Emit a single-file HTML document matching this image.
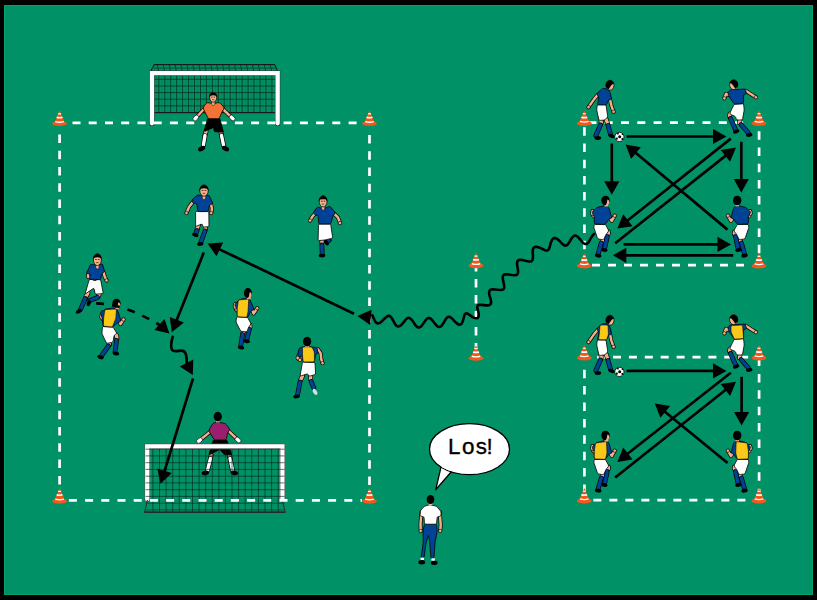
<!DOCTYPE html>
<html><head><meta charset="utf-8"><title>Drill</title>
<style>html,body{margin:0;padding:0;background:#000;width:817px;height:600px;overflow:hidden}svg{display:block}</style>
</head><body><svg width="817" height="600" viewBox="0 0 817 600"><rect x="4" y="5" width="809" height="590" fill="#009266"/><rect x="4.5" y="5.5" width="808" height="589" fill="none" stroke="#06a070" stroke-width="1"/><path d="M156.0 75.5V112.3M161.9 75.5V112.3M167.9 75.5V112.3M173.8 75.5V112.3M179.8 75.5V112.3M185.8 75.5V112.3M191.7 75.5V112.3M197.7 75.5V112.3M203.6 75.5V112.3M209.6 75.5V112.3M215.5 75.5V112.3M221.4 75.5V112.3M227.4 75.5V112.3M233.4 75.5V112.3M239.3 75.5V112.3M245.2 75.5V112.3M251.2 75.5V112.3M257.1 75.5V112.3M263.1 75.5V112.3M269.1 75.5V112.3M275.0 75.5V112.3" stroke="#08301f" stroke-width="0.8" opacity="0.2" fill="none"/><path d="M158.8 75.5V112.3M157.2 64.7L158.5 71M164.8 75.5V112.3M163.2 64.7L164.4 71M170.7 75.5V112.3M169.1 64.7L170.4 71M176.7 75.5V112.3M175.1 64.7L176.3 71M182.6 75.5V112.3M181.0 64.7L182.3 71M188.6 75.5V112.3M187.0 64.7L188.2 71M194.5 75.5V112.3M192.9 64.7L194.2 71M200.5 75.5V112.3M198.9 64.7L200.2 71M206.4 75.5V112.3M204.8 64.7L206.1 71M212.4 75.5V112.3M210.8 64.7L212.1 71M218.3 75.5V112.3M216.7 64.7L218.0 71M224.2 75.5V112.3M222.7 64.7L223.9 71M230.2 75.5V112.3M228.6 64.7L229.9 71M236.2 75.5V112.3M234.6 64.7L235.9 71M242.1 75.5V112.3M240.5 64.7L241.8 71M248.1 75.5V112.3M246.5 64.7L247.8 71M254.0 75.5V112.3M252.4 64.7L253.7 71M260.0 75.5V112.3M258.4 64.7L259.7 71M265.9 75.5V112.3M264.3 64.7L265.6 71M271.9 75.5V112.3M270.2 64.7L271.6 71M154.2 79.3H275.4M154.2 86.0H275.4M154.2 92.6H275.4M154.2 99.2H275.4M154.2 105.9H275.4M154.2 112.5H275.4M153.5 68H276" stroke="#08301f" stroke-width="0.9" opacity="0.9" fill="none"/><path d="M154.2 112.6H275.4M154.3 64.6H274.8M154.3 64.6L150.8 71M274.8 64.6L277.5 71" stroke="#1a1a1a" stroke-width="1.1" fill="none"/><path d="M151.95 123.5V73.15H277.65V123.5" stroke="#333" stroke-width="5.3" fill="none" stroke-linecap="round"/><path d="M151.95 123.3V73.15H277.65V123.3" stroke="#fff" stroke-width="4.3" fill="none" stroke-linecap="round"/><g><polyline points="211.2,455.0 210.5,458.0" fill="none" stroke="#000" stroke-width="4.8" stroke-linecap="round" stroke-linejoin="round"/><polyline points="211.2,455.0 210.5,458.0" fill="none" stroke="#f5ae88" stroke-width="3.4" stroke-linecap="round" stroke-linejoin="round"/><polyline points="210.5,458.5 207.5,470.0" fill="none" stroke="#000" stroke-width="4.8" stroke-linecap="round" stroke-linejoin="round"/><polyline points="210.5,458.5 207.5,470.0" fill="none" stroke="#fff" stroke-width="3.4" stroke-linecap="round" stroke-linejoin="round"/><polyline points="229.4,455.0 230.0,458.0" fill="none" stroke="#000" stroke-width="4.8" stroke-linecap="round" stroke-linejoin="round"/><polyline points="229.4,455.0 230.0,458.0" fill="none" stroke="#f5ae88" stroke-width="3.4" stroke-linecap="round" stroke-linejoin="round"/><polyline points="230.0,458.5 232.5,470.0" fill="none" stroke="#000" stroke-width="4.8" stroke-linecap="round" stroke-linejoin="round"/><polyline points="230.0,458.5 232.5,470.0" fill="none" stroke="#fff" stroke-width="3.4" stroke-linecap="round" stroke-linejoin="round"/><ellipse cx="205.3" cy="472.9" rx="3.8" ry="2.3" transform="rotate(-10 205.3 472.9)" fill="#000"/><ellipse cx="234.3" cy="472.9" rx="3.8" ry="2.3" transform="rotate(10 234.3 472.9)" fill="#000"/><path d="M212.74 441.25Q213.10 440.00 214.40 440.00L225.60 440.00Q226.90 440.00 227.31 441.23L231.49 453.77Q231.90 455.00 230.60 454.90L225.05 454.50Q223.75 454.40 222.97 453.36L220.78 450.44Q220.00 449.40 218.84 449.98L216.16 451.32Q215.00 451.90 213.84 452.48L209.91 454.42Q208.75 455.00 209.11 453.75Z" fill="#000" stroke="#000" stroke-width="0.8" stroke-linejoin="round"/><polyline points="210.0,431.9 199.5,440.5" fill="none" stroke="#000" stroke-width="3.9" stroke-linecap="round" stroke-linejoin="round"/><polyline points="210.0,431.9 199.5,440.5" fill="none" stroke="#f5ae88" stroke-width="2.5" stroke-linecap="round" stroke-linejoin="round"/><ellipse cx="199.5" cy="440.5" rx="3.4" ry="2.2" transform="rotate(141 199.5 440.5)" fill="#fff" stroke="#000" stroke-width="0.6"/><polyline points="228.8,431.2 238.0,440.0" fill="none" stroke="#000" stroke-width="3.9" stroke-linecap="round" stroke-linejoin="round"/><polyline points="228.8,431.2 238.0,440.0" fill="none" stroke="#f5ae88" stroke-width="2.5" stroke-linecap="round" stroke-linejoin="round"/><ellipse cx="238.0" cy="440.0" rx="3.4" ry="2.2" transform="rotate(43 238.0 440.0)" fill="#fff" stroke="#000" stroke-width="0.6"/><path d="M209.24 431.21Q208.75 430.00 209.44 428.90L212.41 424.20Q213.10 423.10 214.36 422.80L216.84 422.20Q218.10 421.90 219.36 422.21L224.34 423.44Q225.60 423.75 226.40 424.78L229.20 428.37Q230.00 429.40 229.27 430.48L228.23 432.02Q227.50 433.10 227.27 434.38L226.48 438.72Q226.25 440.00 224.95 440.00L215.70 440.00Q214.40 440.00 213.70 438.90L210.70 434.20Q210.00 433.10 209.51 431.89Z" fill="#9a1f6c" stroke="#000" stroke-width="0.8" stroke-linejoin="round"/><rect x="216.0" y="419.4" width="3.6" height="3" fill="#f5ae88"/><ellipse cx="217.8" cy="416.6" rx="4.1" ry="4.8" fill="#000"/></g><path d="M147.2 499.5V446.3H282.4V499.5" stroke="#555" stroke-width="5.4" fill="none" stroke-linecap="round"/><path d="M147.2 499.3V446.3H282.4V499.3" stroke="#fff" stroke-width="4.2" fill="none" stroke-linecap="round"/><path d="M149.8 448.9H279.8V499M149.8 448.9V499" stroke="#999" stroke-width="0.7" fill="none"/><path d="M152.9 449V512M159.5 449V512M166.1 449V512M172.7 449V512M179.3 449V512M185.9 449V512M192.5 449V512M199.1 449V512M205.7 449V512M212.3 449V512M218.9 449V512M225.4 449V512M232.0 449V512M238.6 449V512M245.2 449V512M251.8 449V512M258.4 449V512M265.0 449V512M271.6 449V512M278.2 449V512M145.5 449.2H284.5M145.5 455.9H284.5M145.5 462.7H284.5M145.5 469.4H284.5M145.5 476.2H284.5M145.5 482.9H284.5M145.5 489.7H284.5M145.5 496.4H284.5M145.5 503.2H284.5M145.5 509.9H284.5" stroke="#06261a" stroke-width="0.8" opacity="0.8" fill="none"/><path d="M147.5 500L144.6 512.2H285.2L282.2 500" stroke="#333" stroke-width="1.1" fill="none"/><path d="M144.6 512.2H285.2" stroke="#222" stroke-width="1.3"/><path d="M72.5 122.8H80.5M88.7 122.8H96.7M105.0 122.8H113.0M121.2 122.8H129.2M137.5 122.8H145.5M153.7 122.8H161.7M169.9 122.8H177.9M186.2 122.8H194.2M202.4 122.8H210.4M218.7 122.8H226.7M234.9 122.8H242.9M251.1 122.8H259.1M267.4 122.8H275.4M283.6 122.8H291.6M299.9 122.8H307.9M316.1 122.8H324.1M332.3 122.8H340.3M348.6 122.8H356.6M68.9 500.4H76.9M85.1 500.4H93.1M101.3 500.4H109.3M117.5 500.4H125.5M133.7 500.4H141.7M149.9 500.4H157.9M166.1 500.4H174.1M182.3 500.4H190.3M198.5 500.4H206.5M214.7 500.4H222.7M230.9 500.4H238.9M247.1 500.4H255.1M263.3 500.4H271.3M279.5 500.4H287.5M295.7 500.4H303.7M311.9 500.4H319.9M328.1 500.4H336.1M344.3 500.4H352.3M360.5 500.4H362.0M59.6 134.4V142.9M59.6 150.7V159.2M59.6 166.9V175.4M59.6 183.2V191.7M59.6 199.4V207.9M59.6 215.7V224.2M59.6 232.0V240.5M59.6 248.2V256.7M59.6 264.5V273.0M59.6 280.7V289.2M59.6 297.0V305.5M59.6 313.3V321.8M59.6 329.5V338.0M59.6 345.8V354.3M59.6 362.0V370.5M59.6 378.3V386.8M59.6 394.6V403.1M59.6 410.8V419.3M59.6 427.1V435.6M59.6 443.3V451.8M59.6 459.6V468.1M59.6 475.9V484.4M369.5 135.0V143.5M369.5 151.3V159.8M369.5 167.5V176.0M369.5 183.8V192.3M369.5 200.0V208.5M369.5 216.3V224.8M369.5 232.6V241.1M369.5 248.8V257.3M369.5 265.1V273.6M369.5 281.3V289.8M369.5 297.6V306.1M369.5 313.9V322.4M369.5 330.1V338.6M369.5 346.4V354.9M369.5 362.6V371.1M369.5 378.9V387.4M369.5 395.2V403.7M369.5 411.4V419.9M369.5 427.7V436.2M369.5 443.9V452.4M369.5 460.2V468.7M369.5 476.5V485.0M476.0 263.0V271.5M476.0 279.0V287.5M476.0 295.0V303.5M476.0 311.0V319.5M476.0 327.0V335.5M476.0 343.0V349.0M588.4 122.7H596.4M604.7 122.7H612.7M621.0 122.7H629.0M637.3 122.7H645.3M653.6 122.7H661.6M669.9 122.7H677.9M686.2 122.7H694.2M702.5 122.7H710.5M718.8 122.7H726.8M735.1 122.7H743.1M592.0 265.2H600.0M608.0 265.2H616.0M624.0 265.2H632.0M640.0 265.2H648.0M656.0 265.2H664.0M672.0 265.2H680.0M688.0 265.2H696.0M704.0 265.2H712.0M720.0 265.2H728.0M736.0 265.2H744.0M584.4 127.3V135.8M584.4 143.5V152.0M584.4 159.7V168.2M584.4 175.9V184.4M584.4 192.1V200.6M584.4 208.3V216.8M584.4 224.5V233.0M584.4 240.7V249.2M584.4 256.9V259.0M759.1 131.3V139.8M759.1 147.5V156.0M759.1 163.7V172.2M759.1 179.9V188.4M759.1 196.1V204.6M759.1 212.3V220.8M759.1 228.5V237.0M759.1 244.7V253.2M597.1 357.2H605.1M613.0 357.2H621.0M628.9 357.2H636.9M644.8 357.2H652.8M660.7 357.2H668.7M676.6 357.2H684.6M692.5 357.2H700.5M708.4 357.2H716.4M724.3 357.2H732.3M740.2 357.2H748.2M593.4 500.2H601.4M609.4 500.2H617.4M625.4 500.2H633.4M641.4 500.2H649.4M657.4 500.2H665.4M673.4 500.2H681.4M689.4 500.2H697.4M705.4 500.2H713.4M721.4 500.2H729.4M737.4 500.2H745.4M584.4 369.7V378.2M584.4 386.1V394.6M584.4 402.5V411.0M584.4 418.9V427.4M584.4 435.3V443.8M584.4 451.7V460.2M584.4 468.1V476.6M584.4 484.5V493.0M759.1 357.5V366.0M759.1 373.9V382.4M759.1 390.3V398.8M759.1 406.7V415.2M759.1 423.1V431.6M759.1 439.5V448.0M759.1 455.9V464.4M759.1 472.3V480.8M759.1 488.7V494.0" stroke="#fff" stroke-width="2.7" fill="none"/><ellipse cx="59.6" cy="123.5" rx="7.4" ry="2.6" fill="#f2571b"/><path d="M59.6 110.6L64.6 122.2Q59.6 123.9 54.6 122.2Z" fill="#f2571b"/><path d="M58.4 113.0Q59.6 113.5 60.8 113.0L61.3 114.2Q59.6 114.8 57.9 114.2Z" fill="#fff"/><path d="M57.0 116.5Q59.6 117.3 62.2 116.5L62.8 118.0Q59.6 119.0 56.4 118.0Z" fill="#fff"/><path d="M55.5 120.9Q59.6 122.1 63.7 120.9L64.1 122.2Q59.6 123.6 55.1 122.2Z" fill="#fff"/><ellipse cx="369.5" cy="123.5" rx="7.4" ry="2.6" fill="#f2571b"/><path d="M369.5 110.6L374.5 122.2Q369.5 123.9 364.5 122.2Z" fill="#f2571b"/><path d="M368.3 113.0Q369.5 113.5 370.7 113.0L371.2 114.2Q369.5 114.8 367.8 114.2Z" fill="#fff"/><path d="M366.9 116.5Q369.5 117.3 372.1 116.5L372.7 118.0Q369.5 119.0 366.3 118.0Z" fill="#fff"/><path d="M365.4 120.9Q369.5 122.1 373.6 120.9L374.0 122.2Q369.5 123.6 365.0 122.2Z" fill="#fff"/><ellipse cx="59.6" cy="501.1" rx="7.4" ry="2.6" fill="#f2571b"/><path d="M59.6 488.2L64.6 499.8Q59.6 501.5 54.6 499.8Z" fill="#f2571b"/><path d="M58.4 490.6Q59.6 491.1 60.8 490.6L61.3 491.8Q59.6 492.4 57.9 491.8Z" fill="#fff"/><path d="M57.0 494.1Q59.6 494.9 62.2 494.1L62.8 495.6Q59.6 496.6 56.4 495.6Z" fill="#fff"/><path d="M55.5 498.5Q59.6 499.7 63.7 498.5L64.1 499.8Q59.6 501.2 55.1 499.8Z" fill="#fff"/><ellipse cx="369.5" cy="501.1" rx="7.4" ry="2.6" fill="#f2571b"/><path d="M369.5 488.2L374.5 499.8Q369.5 501.5 364.5 499.8Z" fill="#f2571b"/><path d="M368.3 490.6Q369.5 491.1 370.7 490.6L371.2 491.8Q369.5 492.4 367.8 491.8Z" fill="#fff"/><path d="M366.9 494.1Q369.5 494.9 372.1 494.1L372.7 495.6Q369.5 496.6 366.3 495.6Z" fill="#fff"/><path d="M365.4 498.5Q369.5 499.7 373.6 498.5L374.0 499.8Q369.5 501.2 365.0 499.8Z" fill="#fff"/><ellipse cx="476" cy="265.7" rx="7.4" ry="2.6" fill="#f2571b"/><path d="M476 252.8L481.0 264.4Q476 266.1 471.0 264.4Z" fill="#f2571b"/><path d="M474.8 255.2Q476 255.7 477.2 255.2L477.7 256.4Q476 257.0 474.3 256.4Z" fill="#fff"/><path d="M473.4 258.7Q476 259.5 478.6 258.7L479.2 260.2Q476 261.2 472.8 260.2Z" fill="#fff"/><path d="M471.9 263.1Q476 264.3 480.1 263.1L480.5 264.4Q476 265.8 471.5 264.4Z" fill="#fff"/><ellipse cx="476" cy="358.2" rx="7.4" ry="2.6" fill="#f2571b"/><path d="M476 345.3L481.0 356.9Q476 358.6 471.0 356.9Z" fill="#f2571b"/><path d="M474.8 347.7Q476 348.2 477.2 347.7L477.7 348.9Q476 349.5 474.3 348.9Z" fill="#fff"/><path d="M473.4 351.2Q476 352.0 478.6 351.2L479.2 352.7Q476 353.7 472.8 352.7Z" fill="#fff"/><path d="M471.9 355.6Q476 356.8 480.1 355.6L480.5 356.9Q476 358.3 471.5 356.9Z" fill="#fff"/><ellipse cx="584.3" cy="123.4" rx="7.4" ry="2.6" fill="#f2571b"/><path d="M584.3 110.5L589.3 122.1Q584.3 123.8 579.3 122.1Z" fill="#f2571b"/><path d="M583.1 112.9Q584.3 113.4 585.5 112.9L586.0 114.1Q584.3 114.7 582.6 114.1Z" fill="#fff"/><path d="M581.7 116.4Q584.3 117.2 586.9 116.4L587.5 117.9Q584.3 118.9 581.1 117.9Z" fill="#fff"/><path d="M580.2 120.8Q584.3 122.0 588.4 120.8L588.8 122.1Q584.3 123.5 579.8 122.1Z" fill="#fff"/><ellipse cx="759" cy="123.4" rx="7.4" ry="2.6" fill="#f2571b"/><path d="M759 110.5L764.0 122.1Q759 123.8 754.0 122.1Z" fill="#f2571b"/><path d="M757.8 112.9Q759 113.4 760.2 112.9L760.7 114.1Q759 114.7 757.3 114.1Z" fill="#fff"/><path d="M756.4 116.4Q759 117.2 761.6 116.4L762.2 117.9Q759 118.9 755.8 117.9Z" fill="#fff"/><path d="M754.9 120.8Q759 122.0 763.1 120.8L763.5 122.1Q759 123.5 754.5 122.1Z" fill="#fff"/><ellipse cx="584.3" cy="265.9" rx="7.4" ry="2.6" fill="#f2571b"/><path d="M584.3 253.0L589.3 264.6Q584.3 266.3 579.3 264.6Z" fill="#f2571b"/><path d="M583.1 255.4Q584.3 255.9 585.5 255.4L586.0 256.6Q584.3 257.2 582.6 256.6Z" fill="#fff"/><path d="M581.7 258.9Q584.3 259.7 586.9 258.9L587.5 260.4Q584.3 261.4 581.1 260.4Z" fill="#fff"/><path d="M580.2 263.3Q584.3 264.5 588.4 263.3L588.8 264.6Q584.3 266.0 579.8 264.6Z" fill="#fff"/><ellipse cx="759" cy="265.9" rx="7.4" ry="2.6" fill="#f2571b"/><path d="M759 253.0L764.0 264.6Q759 266.3 754.0 264.6Z" fill="#f2571b"/><path d="M757.8 255.4Q759 255.9 760.2 255.4L760.7 256.6Q759 257.2 757.3 256.6Z" fill="#fff"/><path d="M756.4 258.9Q759 259.7 761.6 258.9L762.2 260.4Q759 261.4 755.8 260.4Z" fill="#fff"/><path d="M754.9 263.3Q759 264.5 763.1 263.3L763.5 264.6Q759 266.0 754.5 264.6Z" fill="#fff"/><ellipse cx="584.3" cy="357.9" rx="7.4" ry="2.6" fill="#f2571b"/><path d="M584.3 345.0L589.3 356.6Q584.3 358.3 579.3 356.6Z" fill="#f2571b"/><path d="M583.1 347.4Q584.3 347.9 585.5 347.4L586.0 348.6Q584.3 349.2 582.6 348.6Z" fill="#fff"/><path d="M581.7 350.9Q584.3 351.7 586.9 350.9L587.5 352.4Q584.3 353.4 581.1 352.4Z" fill="#fff"/><path d="M580.2 355.3Q584.3 356.5 588.4 355.3L588.8 356.6Q584.3 358.0 579.8 356.6Z" fill="#fff"/><ellipse cx="759" cy="357.9" rx="7.4" ry="2.6" fill="#f2571b"/><path d="M759 345.0L764.0 356.6Q759 358.3 754.0 356.6Z" fill="#f2571b"/><path d="M757.8 347.4Q759 347.9 760.2 347.4L760.7 348.6Q759 349.2 757.3 348.6Z" fill="#fff"/><path d="M756.4 350.9Q759 351.7 761.6 350.9L762.2 352.4Q759 353.4 755.8 352.4Z" fill="#fff"/><path d="M754.9 355.3Q759 356.5 763.1 355.3L763.5 356.6Q759 358.0 754.5 356.6Z" fill="#fff"/><ellipse cx="584.3" cy="500.9" rx="7.4" ry="2.6" fill="#f2571b"/><path d="M584.3 488.0L589.3 499.6Q584.3 501.3 579.3 499.6Z" fill="#f2571b"/><path d="M583.1 490.4Q584.3 490.9 585.5 490.4L586.0 491.6Q584.3 492.2 582.6 491.6Z" fill="#fff"/><path d="M581.7 493.9Q584.3 494.7 586.9 493.9L587.5 495.4Q584.3 496.4 581.1 495.4Z" fill="#fff"/><path d="M580.2 498.3Q584.3 499.5 588.4 498.3L588.8 499.6Q584.3 501.0 579.8 499.6Z" fill="#fff"/><ellipse cx="759" cy="500.9" rx="7.4" ry="2.6" fill="#f2571b"/><path d="M759 488.0L764.0 499.6Q759 501.3 754.0 499.6Z" fill="#f2571b"/><path d="M757.8 490.4Q759 490.9 760.2 490.4L760.7 491.6Q759 492.2 757.3 491.6Z" fill="#fff"/><path d="M756.4 493.9Q759 494.7 761.6 493.9L762.2 495.4Q759 496.4 755.8 495.4Z" fill="#fff"/><path d="M754.9 498.3Q759 499.5 763.1 498.3L763.5 499.6Q759 501.0 754.5 499.6Z" fill="#fff"/><g><polyline points="206.1,131.0 205.0,135.0" fill="none" stroke="#000" stroke-width="4.8" stroke-linecap="round" stroke-linejoin="round"/><polyline points="206.1,131.0 205.0,135.0" fill="none" stroke="#f5ae88" stroke-width="3.4" stroke-linecap="round" stroke-linejoin="round"/><polyline points="205.0,135.5 203.4,145.0" fill="none" stroke="#000" stroke-width="4.8" stroke-linecap="round" stroke-linejoin="round"/><polyline points="205.0,135.5 203.4,145.0" fill="none" stroke="#fff" stroke-width="3.4" stroke-linecap="round" stroke-linejoin="round"/><polyline points="220.7,131.0 221.5,135.0" fill="none" stroke="#000" stroke-width="4.8" stroke-linecap="round" stroke-linejoin="round"/><polyline points="220.7,131.0 221.5,135.0" fill="none" stroke="#f5ae88" stroke-width="3.4" stroke-linecap="round" stroke-linejoin="round"/><polyline points="221.5,135.5 223.5,145.0" fill="none" stroke="#000" stroke-width="4.8" stroke-linecap="round" stroke-linejoin="round"/><polyline points="221.5,135.5 223.5,145.0" fill="none" stroke="#fff" stroke-width="3.4" stroke-linecap="round" stroke-linejoin="round"/><ellipse cx="201.6" cy="148.6" rx="3.8" ry="2.3" transform="rotate(-25 201.6 148.6)" fill="#000"/><ellipse cx="225.5" cy="148.6" rx="3.8" ry="2.3" transform="rotate(25 225.5 148.6)" fill="#000"/><path d="M207.36 119.45Q207.70 118.20 209.00 118.20L218.40 118.20Q219.70 118.20 220.04 119.45L223.16 130.95Q223.50 132.20 222.20 132.13L215.50 131.77Q214.20 131.70 214.05 130.41L213.85 128.69Q213.70 127.40 212.51 127.93L205.19 131.17Q204.00 131.70 204.34 130.45Z" fill="#000" stroke="#000" stroke-width="0.8" stroke-linejoin="round"/><polyline points="204.0,109.0 195.8,118.0" fill="none" stroke="#000" stroke-width="3.9" stroke-linecap="round" stroke-linejoin="round"/><polyline points="204.0,109.0 195.8,118.0" fill="none" stroke="#f5ae88" stroke-width="2.5" stroke-linecap="round" stroke-linejoin="round"/><ellipse cx="195.8" cy="118.0" rx="3.4" ry="2.2" transform="rotate(132 195.8 118.0)" fill="#fff" stroke="#000" stroke-width="0.6"/><polyline points="222.8,109.0 232.2,118.0" fill="none" stroke="#000" stroke-width="3.9" stroke-linecap="round" stroke-linejoin="round"/><polyline points="222.8,109.0 232.2,118.0" fill="none" stroke="#f5ae88" stroke-width="2.5" stroke-linecap="round" stroke-linejoin="round"/><ellipse cx="232.2" cy="118.0" rx="3.4" ry="2.2" transform="rotate(44 232.2 118.0)" fill="#fff" stroke="#000" stroke-width="0.6"/><path d="M203.48 109.06Q202.90 107.90 203.65 106.84L205.95 103.56Q206.70 102.50 207.98 102.70L211.92 103.30Q213.20 103.50 214.48 103.30L218.42 102.70Q219.70 102.50 220.56 103.47L223.64 106.93Q224.50 107.90 223.79 108.99L223.11 110.01Q222.40 111.10 221.88 112.29L219.62 117.51Q219.10 118.70 217.80 118.70L209.60 118.70Q208.30 118.70 207.72 117.54L205.08 112.26Q204.50 111.10 203.92 109.94Z" fill="#f47236" stroke="#000" stroke-width="0.8" stroke-linejoin="round"/><path d="M211.3 100.7L215.1 100.7L214.8 104.4L213.2 105.8L211.6 104.4Z" fill="#f5ae88" stroke="#000" stroke-width="0.5"/><ellipse cx="213.2" cy="97.2" rx="3.6" ry="5.0" fill="#f5ae88" stroke="#000" stroke-width="0.7"/><path d="M209.2 98.0C208.7 90.5 217.7 90.5 217.2 98.0L215.9 95.7Q213.2 95.0 210.5 95.7Z" fill="#000"/><path d="M211.2 97.1h1.4M213.7 97.1h1.4" stroke="#3a2010" stroke-width="0.9"/><path d="M212.1 99.7h2.2" stroke="#5a3020" stroke-width="0.8"/></g><g><polyline points="198.3,225.0 197.0,229.5" fill="none" stroke="#000" stroke-width="4.8" stroke-linecap="round" stroke-linejoin="round"/><polyline points="198.3,225.0 197.0,229.5" fill="none" stroke="#f5ae88" stroke-width="3.4" stroke-linecap="round" stroke-linejoin="round"/><polyline points="197.0,230.5 195.8,233.5" fill="none" stroke="#000" stroke-width="4.8" stroke-linecap="round" stroke-linejoin="round"/><polyline points="197.0,230.5 195.8,233.5" fill="none" stroke="#004296" stroke-width="3.4" stroke-linecap="round" stroke-linejoin="round"/><polyline points="205.5,225.0 205.2,229.6" fill="none" stroke="#000" stroke-width="4.8" stroke-linecap="round" stroke-linejoin="round"/><polyline points="205.5,225.0 205.2,229.6" fill="none" stroke="#f5ae88" stroke-width="3.4" stroke-linecap="round" stroke-linejoin="round"/><polyline points="205.0,231.0 200.7,242.6" fill="none" stroke="#000" stroke-width="4.8" stroke-linecap="round" stroke-linejoin="round"/><polyline points="205.0,231.0 200.7,242.6" fill="none" stroke="#004296" stroke-width="3.4" stroke-linecap="round" stroke-linejoin="round"/><ellipse cx="195.3" cy="235.0" rx="3.3" ry="1.9" transform="rotate(20 195.3 235.0)" fill="#000"/><ellipse cx="200.3" cy="244.0" rx="3.3" ry="1.9" transform="rotate(-10 200.3 244.0)" fill="#000"/><path d="M195.60 212.60Q195.60 211.30 196.90 211.30L207.50 211.30Q208.80 211.30 208.82 212.60L208.98 225.30Q209.00 226.60 207.71 226.73L204.29 227.07Q203.00 227.20 202.74 225.93L202.56 225.07Q202.30 223.80 201.10 224.30L196.80 226.10Q195.60 226.60 195.60 225.30Z" fill="#fff" stroke="#000" stroke-width="0.8" stroke-linejoin="round"/><polyline points="194.5,200.0 189.0,207.0 186.5,213.0" fill="none" stroke="#000" stroke-width="3.9" stroke-linecap="round" stroke-linejoin="round"/><polyline points="194.5,200.0 189.0,207.0 186.5,213.0" fill="none" stroke="#f5ae88" stroke-width="2.5" stroke-linecap="round" stroke-linejoin="round"/><circle cx="186.5" cy="213.0" r="1.7" fill="#f5ae88" stroke="#000" stroke-width="0.6"/><polyline points="210.8,203.0 212.0,209.0 211.2,213.0" fill="none" stroke="#000" stroke-width="3.9" stroke-linecap="round" stroke-linejoin="round"/><polyline points="210.8,203.0 212.0,209.0 211.2,213.0" fill="none" stroke="#f5ae88" stroke-width="2.5" stroke-linecap="round" stroke-linejoin="round"/><circle cx="211.2" cy="213.0" r="1.7" fill="#f5ae88" stroke="#000" stroke-width="0.6"/><path d="M192.38 200.28Q192.60 199.00 193.63 198.20L196.97 195.60Q198.00 194.80 199.27 195.08L202.13 195.72Q203.40 196.00 204.67 195.72L207.53 195.08Q208.80 194.80 209.35 195.98L212.45 202.62Q213.00 203.80 211.77 204.21L210.63 204.59Q209.40 205.00 209.17 206.28L208.43 210.32Q208.20 211.60 206.90 211.60L199.30 211.60Q198.00 211.60 197.80 210.32L197.00 205.08Q196.80 203.80 195.55 203.46L193.25 202.84Q192.00 202.50 192.22 201.22Z" fill="#004296" stroke="#000" stroke-width="0.8" stroke-linejoin="round"/><path d="M202.1 194.7L205.9 194.7L205.6 198.4L204.0 199.8L202.4 198.4Z" fill="#f5ae88" stroke="#000" stroke-width="0.5"/><ellipse cx="204" cy="190.5" rx="4.2" ry="5.7" fill="#f5ae88" stroke="#000" stroke-width="0.7"/><path d="M199.4 191.4C198.9 182.8 209.1 182.8 208.6 191.4L207.2 188.8Q204 187.9 200.8 188.8Z" fill="#000"/><path d="M201.7 190.4h1.7M204.6 190.4h1.7" stroke="#3a2010" stroke-width="0.9"/><path d="M202.7 193.3h2.5" stroke="#5a3020" stroke-width="0.8"/></g><g><polyline points="322.0,238.0 321.9,243.0" fill="none" stroke="#000" stroke-width="4.8" stroke-linecap="round" stroke-linejoin="round"/><polyline points="322.0,238.0 321.9,243.0" fill="none" stroke="#f5ae88" stroke-width="3.4" stroke-linecap="round" stroke-linejoin="round"/><polyline points="321.9,245.0 322.2,254.2" fill="none" stroke="#000" stroke-width="4.8" stroke-linecap="round" stroke-linejoin="round"/><polyline points="321.9,245.0 322.2,254.2" fill="none" stroke="#004296" stroke-width="3.4" stroke-linecap="round" stroke-linejoin="round"/><polyline points="329.4,236.0 329.8,239.0" fill="none" stroke="#000" stroke-width="4.8" stroke-linecap="round" stroke-linejoin="round"/><polyline points="329.4,236.0 329.8,239.0" fill="none" stroke="#f5ae88" stroke-width="3.4" stroke-linecap="round" stroke-linejoin="round"/><polyline points="329.0,240.5 326.5,242.0" fill="none" stroke="#000" stroke-width="4.8" stroke-linecap="round" stroke-linejoin="round"/><polyline points="329.0,240.5 326.5,242.0" fill="none" stroke="#004296" stroke-width="3.4" stroke-linecap="round" stroke-linejoin="round"/><ellipse cx="322.0" cy="255.6" rx="3.3" ry="1.9" transform="rotate(0 322.0 255.6)" fill="#000"/><ellipse cx="326.5" cy="242.5" rx="3.3" ry="1.9" transform="rotate(60 326.5 242.5)" fill="#000"/><path d="M318.47 225.30Q318.50 224.00 319.80 224.00L329.30 224.00Q330.60 224.00 330.80 225.29L332.55 236.81Q332.75 238.10 331.49 238.41L326.26 239.69Q325.00 240.00 323.70 240.11L319.40 240.49Q318.10 240.60 318.13 239.30Z" fill="#fff" stroke="#000" stroke-width="0.8" stroke-linejoin="round"/><polyline points="315.5,213.0 312.2,216.8 310.0,220.6" fill="none" stroke="#000" stroke-width="3.9" stroke-linecap="round" stroke-linejoin="round"/><polyline points="315.5,213.0 312.2,216.8 310.0,220.6" fill="none" stroke="#f5ae88" stroke-width="2.5" stroke-linecap="round" stroke-linejoin="round"/><circle cx="310.0" cy="220.6" r="1.7" fill="#f5ae88" stroke="#000" stroke-width="0.6"/><polyline points="333.5,213.0 338.1,217.6 340.0,223.1" fill="none" stroke="#000" stroke-width="3.9" stroke-linecap="round" stroke-linejoin="round"/><polyline points="333.5,213.0 338.1,217.6 340.0,223.1" fill="none" stroke="#f5ae88" stroke-width="2.5" stroke-linecap="round" stroke-linejoin="round"/><circle cx="340.0" cy="223.1" r="1.7" fill="#f5ae88" stroke="#000" stroke-width="0.6"/><path d="M313.92 213.51Q313.10 212.50 313.90 211.48L316.70 207.92Q317.50 206.90 318.73 207.31L321.87 208.34Q323.10 208.75 324.32 208.31L328.78 206.69Q330.00 206.25 330.82 207.26L334.78 212.09Q335.60 213.10 334.68 214.02L334.02 214.68Q333.10 215.60 332.73 216.85L330.97 222.75Q330.60 224.00 329.30 224.00L320.05 224.00Q318.75 224.00 318.66 222.70L318.19 216.30Q318.10 215.00 317.10 215.24L316.60 215.36Q315.60 215.60 314.78 214.59Z" fill="#004296" stroke="#000" stroke-width="0.8" stroke-linejoin="round"/><path d="M321.2 205.4L325.0 205.4L324.7 209.1L323.1 210.5L321.5 209.1Z" fill="#f5ae88" stroke="#000" stroke-width="0.5"/><ellipse cx="323.1" cy="201.3" rx="3.9" ry="5.6" fill="#f5ae88" stroke="#000" stroke-width="0.7"/><path d="M318.8 202.1C318.3 193.7 327.9 193.7 327.4 202.1L326.0 199.6Q323.1 198.8 320.2 199.6Z" fill="#000"/><path d="M321.0 201.2h1.6M323.7 201.2h1.6" stroke="#3a2010" stroke-width="0.9"/><path d="M321.9 204.1h2.3" stroke="#5a3020" stroke-width="0.8"/></g><g><polyline points="88.0,293.0 85.6,297.2" fill="none" stroke="#000" stroke-width="4.8" stroke-linecap="round" stroke-linejoin="round"/><polyline points="88.0,293.0 85.6,297.2" fill="none" stroke="#f5ae88" stroke-width="3.4" stroke-linecap="round" stroke-linejoin="round"/><polyline points="85.3,298.5 80.4,309.6" fill="none" stroke="#000" stroke-width="4.8" stroke-linecap="round" stroke-linejoin="round"/><polyline points="85.3,298.5 80.4,309.6" fill="none" stroke="#004296" stroke-width="3.4" stroke-linecap="round" stroke-linejoin="round"/><polyline points="99.4,293.0 98.5,296.0" fill="none" stroke="#000" stroke-width="4.8" stroke-linecap="round" stroke-linejoin="round"/><polyline points="99.4,293.0 98.5,296.0" fill="none" stroke="#f5ae88" stroke-width="3.4" stroke-linecap="round" stroke-linejoin="round"/><polyline points="97.6,297.5 89.8,300.5" fill="none" stroke="#000" stroke-width="4.8" stroke-linecap="round" stroke-linejoin="round"/><polyline points="97.6,297.5 89.8,300.5" fill="none" stroke="#004296" stroke-width="3.4" stroke-linecap="round" stroke-linejoin="round"/><ellipse cx="78.8" cy="311.3" rx="3.3" ry="1.9" transform="rotate(-30 78.8 311.3)" fill="#000"/><ellipse cx="88.8" cy="303.0" rx="3.3" ry="1.9" transform="rotate(-70 88.8 303.0)" fill="#000"/><path d="M88.84 280.75Q89.20 279.50 90.50 279.50L99.30 279.50Q100.60 279.50 100.84 280.78L103.06 292.32Q103.30 293.60 102.00 293.70L96.50 294.10Q95.20 294.20 94.95 292.92L94.25 289.28Q94.00 288.00 92.93 288.74L86.07 293.46Q85.00 294.20 85.36 292.95Z" fill="#fff" stroke="#000" stroke-width="0.8" stroke-linejoin="round"/><polyline points="88.5,272.0 88.0,276.8 95.0,279.0" fill="none" stroke="#000" stroke-width="3.9" stroke-linecap="round" stroke-linejoin="round"/><polyline points="88.5,272.0 88.0,276.8 95.0,279.0" fill="none" stroke="#f5ae88" stroke-width="2.5" stroke-linecap="round" stroke-linejoin="round"/><circle cx="95.0" cy="279.0" r="1.7" fill="#f5ae88" stroke="#000" stroke-width="0.6"/><polyline points="103.6,272.6 104.8,276.8 106.6,280.4" fill="none" stroke="#000" stroke-width="3.9" stroke-linecap="round" stroke-linejoin="round"/><polyline points="103.6,272.6 104.8,276.8 106.6,280.4" fill="none" stroke="#f5ae88" stroke-width="2.5" stroke-linecap="round" stroke-linejoin="round"/><circle cx="106.6" cy="280.4" r="1.7" fill="#f5ae88" stroke="#000" stroke-width="0.6"/><path d="M87.16 272.72Q87.40 272.00 87.87 270.79L89.93 265.41Q90.40 264.20 91.68 264.43L95.72 265.17Q97.00 265.40 98.23 264.99L101.17 264.01Q102.40 263.60 102.76 264.85L104.44 270.75Q104.80 272.00 103.60 272.48L103.00 272.72Q101.80 273.20 101.57 274.48L100.83 278.52Q100.60 279.80 99.30 279.73L90.50 279.27Q89.20 279.20 89.48 277.93L90.12 275.07Q90.40 273.80 89.10 273.80L88.10 273.80Q86.80 273.80 87.04 273.08Z" fill="#004296" stroke="#000" stroke-width="0.8" stroke-linejoin="round"/><path d="M95.5 264.1L99.3 264.1L99.0 267.8L97.4 269.2L95.8 267.8Z" fill="#f5ae88" stroke="#000" stroke-width="0.5"/><ellipse cx="97.4" cy="259.6" rx="4.0" ry="6.0" fill="#f5ae88" stroke="#000" stroke-width="0.7"/><path d="M93.0 260.5C92.5 251.5 102.3 251.5 101.8 260.5L100.4 257.8Q97.4 256.9 94.4 257.8Z" fill="#000"/><path d="M95.2 259.5h1.6M98.0 259.5h1.6" stroke="#3a2010" stroke-width="0.9"/><path d="M96.2 262.6h2.4" stroke="#5a3020" stroke-width="0.8"/></g><g><polyline points="108.3,341.0 109.5,344.5" fill="none" stroke="#000" stroke-width="4.8" stroke-linecap="round" stroke-linejoin="round"/><polyline points="108.3,341.0 109.5,344.5" fill="none" stroke="#f5ae88" stroke-width="3.4" stroke-linecap="round" stroke-linejoin="round"/><polyline points="108.5,346.0 101.8,355.3" fill="none" stroke="#000" stroke-width="4.8" stroke-linecap="round" stroke-linejoin="round"/><polyline points="108.5,346.0 101.8,355.3" fill="none" stroke="#004296" stroke-width="3.4" stroke-linecap="round" stroke-linejoin="round"/><polyline points="116.2,335.0 117.0,338.1" fill="none" stroke="#000" stroke-width="4.8" stroke-linecap="round" stroke-linejoin="round"/><polyline points="116.2,335.0 117.0,338.1" fill="none" stroke="#f5ae88" stroke-width="3.4" stroke-linecap="round" stroke-linejoin="round"/><polyline points="116.5,340.5 115.0,352.4" fill="none" stroke="#000" stroke-width="4.8" stroke-linecap="round" stroke-linejoin="round"/><polyline points="116.5,340.5 115.0,352.4" fill="none" stroke="#004296" stroke-width="3.4" stroke-linecap="round" stroke-linejoin="round"/><ellipse cx="100.5" cy="357.2" rx="3.3" ry="1.9" transform="rotate(20 100.5 357.2)" fill="#000"/><ellipse cx="116.0" cy="353.6" rx="3.3" ry="1.9" transform="rotate(10 116.0 353.6)" fill="#000"/><path d="M102.39 327.80Q102.50 326.50 103.80 326.56L111.70 326.94Q113.00 327.00 113.68 328.11L116.32 332.39Q117.00 333.50 115.88 334.16L115.22 334.54Q114.10 335.20 113.90 336.48L113.20 340.92Q113.00 342.20 111.72 342.44L107.88 343.16Q106.60 343.40 106.04 342.23L102.46 334.67Q101.90 333.50 102.01 332.20Z" fill="#fff" stroke="#000" stroke-width="0.8" stroke-linejoin="round"/><polyline points="102.5,312.5 101.3,317.1 103.6,320.0" fill="none" stroke="#000" stroke-width="3.9" stroke-linecap="round" stroke-linejoin="round"/><polyline points="102.5,312.5 101.3,317.1 103.6,320.0" fill="none" stroke="#f5ae88" stroke-width="2.5" stroke-linecap="round" stroke-linejoin="round"/><circle cx="103.6" cy="320.0" r="1.7" fill="#f5ae88" stroke="#000" stroke-width="0.6"/><polyline points="120.0,321.8 120.5,324.2 123.5,319.5" fill="none" stroke="#000" stroke-width="3.9" stroke-linecap="round" stroke-linejoin="round"/><polyline points="120.0,321.8 120.5,324.2 123.5,319.5" fill="none" stroke="#f5ae88" stroke-width="2.5" stroke-linecap="round" stroke-linejoin="round"/><circle cx="123.5" cy="319.5" r="1.7" fill="#f5ae88" stroke="#000" stroke-width="0.6"/><path d="M101.30 313.42Q101.30 312.50 102.29 311.66L104.41 309.84Q105.40 309.00 106.69 308.82L112.81 307.98Q114.10 307.80 115.17 308.54L116.53 309.46Q117.60 310.20 117.99 311.44L120.71 319.96Q121.10 321.20 119.94 321.68L119.36 321.92Q118.20 322.40 117.18 323.21L113.42 326.19Q112.40 327.00 111.10 326.93L104.30 326.57Q103.00 326.50 102.91 325.20L102.59 320.80Q102.50 319.50 102.18 318.24L101.62 316.06Q101.30 314.80 101.30 313.88Z" fill="#004296" stroke="#000" stroke-width="0.8" stroke-linejoin="round"/><path d="M104.62 310.89Q104.80 309.60 106.10 309.53L115.20 309.07Q116.50 309.00 116.42 310.30L115.98 317.00Q115.90 318.30 115.41 319.51L112.89 325.79Q112.40 327.00 111.11 326.88L104.69 326.32Q103.40 326.20 103.43 324.90L103.57 319.60Q103.60 318.30 103.78 317.01Z" fill="#f9c818" stroke="#000" stroke-width="0.6" stroke-linejoin="round"/><rect x="115.5" y="305.7" width="3.6" height="3.2" fill="#f5ae88"/><ellipse cx="116.5" cy="303.2" rx="4.1" ry="4.5" fill="#000"/><path d="M118.3 302.3Q120.8 302.8 120.0 305.9Q119.0 308.4 116.3 308.6Q118.1 305.9 118.3 302.3Z" fill="#f5ae88"/></g><g><polyline points="243.5,330.0 243.0,333.0" fill="none" stroke="#000" stroke-width="4.8" stroke-linecap="round" stroke-linejoin="round"/><polyline points="243.5,330.0 243.0,333.0" fill="none" stroke="#f5ae88" stroke-width="3.4" stroke-linecap="round" stroke-linejoin="round"/><polyline points="242.5,334.5 240.8,345.6" fill="none" stroke="#000" stroke-width="4.8" stroke-linecap="round" stroke-linejoin="round"/><polyline points="242.5,334.5 240.8,345.6" fill="none" stroke="#004296" stroke-width="3.4" stroke-linecap="round" stroke-linejoin="round"/><polyline points="249.9,325.0 249.9,327.4" fill="none" stroke="#000" stroke-width="4.8" stroke-linecap="round" stroke-linejoin="round"/><polyline points="249.9,325.0 249.9,327.4" fill="none" stroke="#f5ae88" stroke-width="3.4" stroke-linecap="round" stroke-linejoin="round"/><polyline points="249.3,329.4 246.9,339.2" fill="none" stroke="#000" stroke-width="4.8" stroke-linecap="round" stroke-linejoin="round"/><polyline points="249.3,329.4 246.9,339.2" fill="none" stroke="#004296" stroke-width="3.4" stroke-linecap="round" stroke-linejoin="round"/><ellipse cx="241.0" cy="347.5" rx="3.3" ry="1.9" transform="rotate(15 241.0 347.5)" fill="#000"/><ellipse cx="246.8" cy="341.3" rx="3.3" ry="1.9" transform="rotate(10 246.8 341.3)" fill="#000"/><path d="M236.46 317.99Q236.60 316.70 237.90 316.77L246.20 317.23Q247.50 317.30 248.13 318.44L250.57 322.86Q251.20 324.00 250.37 325.00L249.53 326.00Q248.70 327.00 248.25 328.22L247.35 330.68Q246.90 331.90 245.61 331.77L242.09 331.43Q240.80 331.30 240.20 330.15L236.60 323.25Q236.00 322.10 236.14 320.81Z" fill="#fff" stroke="#000" stroke-width="0.8" stroke-linejoin="round"/><polyline points="235.3,303.9 234.7,306.3 236.6,310.0" fill="none" stroke="#000" stroke-width="3.9" stroke-linecap="round" stroke-linejoin="round"/><polyline points="235.3,303.9 234.7,306.3 236.6,310.0" fill="none" stroke="#f5ae88" stroke-width="2.5" stroke-linecap="round" stroke-linejoin="round"/><circle cx="236.6" cy="310.0" r="1.7" fill="#f5ae88" stroke="#000" stroke-width="0.6"/><polyline points="252.4,310.6 253.6,313.6 257.2,308.2" fill="none" stroke="#000" stroke-width="3.9" stroke-linecap="round" stroke-linejoin="round"/><polyline points="252.4,310.6 253.6,313.6 257.2,308.2" fill="none" stroke="#f5ae88" stroke-width="2.5" stroke-linecap="round" stroke-linejoin="round"/><circle cx="257.2" cy="308.2" r="1.7" fill="#f5ae88" stroke="#000" stroke-width="0.6"/><path d="M235.48 303.89Q236.00 302.70 236.99 301.85L238.61 300.45Q239.60 299.60 240.86 299.26L245.04 298.14Q246.30 297.80 247.46 298.38L248.74 299.02Q249.90 299.60 250.42 300.79L253.68 308.21Q254.20 309.40 253.03 309.97L251.67 310.63Q250.50 311.20 250.02 312.41L248.58 316.09Q248.10 317.30 246.80 317.23L238.50 316.77Q237.20 316.70 237.20 315.40L237.20 310.10Q237.20 308.80 236.38 307.79L235.52 306.71Q234.70 305.70 235.22 304.51Z" fill="#004296" stroke="#000" stroke-width="0.8" stroke-linejoin="round"/><path d="M238.22 301.29Q238.40 300.00 239.69 299.87L247.41 299.13Q248.70 299.00 248.64 300.30L248.16 309.90Q248.10 311.20 247.85 312.48L247.15 316.02Q246.90 317.30 245.60 317.22L238.50 316.78Q237.20 316.70 237.20 315.40L237.20 310.10Q237.20 308.80 237.38 307.51Z" fill="#f9c818" stroke="#000" stroke-width="0.6" stroke-linejoin="round"/><rect x="246.9" y="296.0" width="3.6" height="3.2" fill="#f5ae88"/><ellipse cx="247.9" cy="293.0" rx="4.0" ry="5.0" fill="#000"/><path d="M249.7 292.0Q252.1 292.5 251.3 296.0Q250.3 298.8 247.7 299.0Q249.5 296.0 249.7 292.0Z" fill="#f5ae88"/></g><g><polyline points="302.5,376.0 300.6,380.0" fill="none" stroke="#000" stroke-width="4.8" stroke-linecap="round" stroke-linejoin="round"/><polyline points="302.5,376.0 300.6,380.0" fill="none" stroke="#f5ae88" stroke-width="3.4" stroke-linecap="round" stroke-linejoin="round"/><polyline points="300.0,382.0 297.5,395.0" fill="none" stroke="#000" stroke-width="4.8" stroke-linecap="round" stroke-linejoin="round"/><polyline points="300.0,382.0 297.5,395.0" fill="none" stroke="#004296" stroke-width="3.4" stroke-linecap="round" stroke-linejoin="round"/><polyline points="310.6,376.0 310.6,379.4" fill="none" stroke="#000" stroke-width="4.8" stroke-linecap="round" stroke-linejoin="round"/><polyline points="310.6,376.0 310.6,379.4" fill="none" stroke="#f5ae88" stroke-width="3.4" stroke-linecap="round" stroke-linejoin="round"/><polyline points="311.2,381.5 313.8,388.0" fill="none" stroke="#000" stroke-width="4.8" stroke-linecap="round" stroke-linejoin="round"/><polyline points="311.2,381.5 313.8,388.0" fill="none" stroke="#004296" stroke-width="3.4" stroke-linecap="round" stroke-linejoin="round"/><ellipse cx="296.5" cy="396.5" rx="3.3" ry="1.9" transform="rotate(-10 296.5 396.5)" fill="#000"/><ellipse cx="315.0" cy="391.9" rx="3.3" ry="1.9" transform="rotate(60 315.0 391.9)" fill="#ddd"/><path d="M302.28 363.18Q302.50 361.90 303.80 361.96L313.70 362.44Q315.00 362.50 315.07 363.80L315.53 373.10Q315.60 374.40 314.35 374.77L310.65 375.88Q309.40 376.25 308.64 375.25L308.26 374.75Q307.50 373.75 306.27 374.16L301.23 375.84Q300.00 376.25 300.22 374.97Z" fill="#fff" stroke="#000" stroke-width="0.8" stroke-linejoin="round"/><polyline points="298.8,355.0 297.5,358.1 300.0,360.0" fill="none" stroke="#000" stroke-width="3.9" stroke-linecap="round" stroke-linejoin="round"/><polyline points="298.8,355.0 297.5,358.1 300.0,360.0" fill="none" stroke="#f5ae88" stroke-width="2.5" stroke-linecap="round" stroke-linejoin="round"/><circle cx="300.0" cy="360.0" r="1.7" fill="#f5ae88" stroke="#000" stroke-width="0.6"/><polyline points="318.1,349.4 320.6,353.1 321.2,358.8 322.5,363.1" fill="none" stroke="#000" stroke-width="3.9" stroke-linecap="round" stroke-linejoin="round"/><polyline points="318.1,349.4 320.6,353.1 321.2,358.8 322.5,363.1" fill="none" stroke="#f5ae88" stroke-width="2.5" stroke-linecap="round" stroke-linejoin="round"/><circle cx="322.5" cy="363.1" r="1.7" fill="#f5ae88" stroke="#000" stroke-width="0.6"/><path d="M298.55 350.03Q298.75 348.75 299.87 348.09L300.78 347.56Q301.90 346.90 303.20 346.90L308.70 346.90Q310.00 346.90 311.30 347.01L315.60 347.39Q316.90 347.50 317.17 348.77L317.83 351.83Q318.10 353.10 317.10 353.62L316.60 353.88Q315.60 354.40 315.39 355.68L314.61 360.62Q314.40 361.90 313.10 361.90L304.40 361.90Q303.10 361.90 302.97 360.61L302.63 357.29Q302.50 356.00 301.22 356.23L298.78 356.67Q297.50 356.90 297.70 355.62Z" fill="#004296" stroke="#000" stroke-width="0.8" stroke-linejoin="round"/><path d="M302.50 348.20Q302.50 346.90 303.80 346.90L310.60 346.90Q311.90 346.90 312.48 348.06L313.82 350.74Q314.40 351.90 314.40 353.20L314.40 360.60Q314.40 361.90 313.10 361.90L304.40 361.90Q303.10 361.90 302.99 360.60L302.61 356.30Q302.50 355.00 302.50 353.70Z" fill="#f9c818" stroke="#000" stroke-width="0.6" stroke-linejoin="round"/><rect x="305.3" y="344.4" width="3.6" height="3" fill="#f5ae88"/><ellipse cx="307.1" cy="341.6" rx="4.1" ry="4.8" fill="#000"/></g><g transform="translate(0 0)"><g><polyline points="600.8,119.0 601.3,122.9" fill="none" stroke="#000" stroke-width="4.8" stroke-linecap="round" stroke-linejoin="round"/><polyline points="600.8,119.0 601.3,122.9" fill="none" stroke="#f5ae88" stroke-width="3.4" stroke-linecap="round" stroke-linejoin="round"/><polyline points="600.5,125.0 595.8,135.5" fill="none" stroke="#000" stroke-width="4.8" stroke-linecap="round" stroke-linejoin="round"/><polyline points="600.5,125.0 595.8,135.5" fill="none" stroke="#004296" stroke-width="3.4" stroke-linecap="round" stroke-linejoin="round"/><polyline points="606.0,119.0 607.8,124.0" fill="none" stroke="#000" stroke-width="4.8" stroke-linecap="round" stroke-linejoin="round"/><polyline points="606.0,119.0 607.8,124.0" fill="none" stroke="#f5ae88" stroke-width="3.4" stroke-linecap="round" stroke-linejoin="round"/><polyline points="608.0,125.5 610.6,134.6" fill="none" stroke="#000" stroke-width="4.8" stroke-linecap="round" stroke-linejoin="round"/><polyline points="608.0,125.5 610.6,134.6" fill="none" stroke="#004296" stroke-width="3.4" stroke-linecap="round" stroke-linejoin="round"/><ellipse cx="597.8" cy="138.0" rx="3.3" ry="1.9" transform="rotate(0 597.8 138.0)" fill="#000"/><ellipse cx="611.5" cy="136.0" rx="3.3" ry="1.9" transform="rotate(20 611.5 136.0)" fill="#000"/><path d="M597.15 106.09Q597.30 104.80 598.60 104.80L604.70 104.80Q606.00 104.80 606.19 106.09L607.61 115.71Q607.80 117.00 606.88 117.92L605.72 119.08Q604.80 120.00 603.50 120.11L600.30 120.39Q599.00 120.50 598.72 119.23L596.98 111.27Q596.70 110.00 596.85 108.71Z" fill="#fff" stroke="#000" stroke-width="0.8" stroke-linejoin="round"/><polyline points="597.8,94.8 594.3,98.9 588.5,107.1" fill="none" stroke="#000" stroke-width="3.9" stroke-linecap="round" stroke-linejoin="round"/><polyline points="597.8,94.8 594.3,98.9 588.5,107.1" fill="none" stroke="#f5ae88" stroke-width="2.5" stroke-linecap="round" stroke-linejoin="round"/><circle cx="588.5" cy="107.1" r="1.7" fill="#f5ae88" stroke="#000" stroke-width="0.6"/><polyline points="610.1,99.5 611.3,105.3 613.6,111.8" fill="none" stroke="#000" stroke-width="3.9" stroke-linecap="round" stroke-linejoin="round"/><polyline points="610.1,99.5 611.3,105.3 613.6,111.8" fill="none" stroke="#f5ae88" stroke-width="2.5" stroke-linecap="round" stroke-linejoin="round"/><circle cx="613.6" cy="111.8" r="1.7" fill="#f5ae88" stroke="#000" stroke-width="0.6"/><path d="M597.34 94.83Q596.70 93.70 597.66 92.82L601.54 89.28Q602.50 88.40 603.79 88.53L607.01 88.87Q608.30 89.00 608.89 90.16L609.51 91.34Q610.10 92.50 610.41 93.76L611.49 98.24Q611.80 99.50 610.52 99.72L609.58 99.88Q608.30 100.10 607.86 101.32L607.04 103.58Q606.60 104.80 605.30 104.80L598.60 104.80Q597.30 104.80 597.61 103.54L598.69 99.06Q599.00 97.80 598.36 96.67Z" fill="#004296" stroke="#000" stroke-width="0.8" stroke-linejoin="round"/><ellipse cx="610" cy="85.2" rx="4.0" ry="5.0" fill="#f5ae88" stroke="#000" stroke-width="0.7"/><path d="M614.0 83.7C613.6 78.7 604.8 78.7 605.8 86.7L608.4 89.5L610.4 86.5Q611.8 83.7 614.0 83.7Z" fill="#000"/></g><g><polyline points="730.0,114.0 729.6,116.0" fill="none" stroke="#000" stroke-width="4.8" stroke-linecap="round" stroke-linejoin="round"/><polyline points="730.0,114.0 729.6,116.0" fill="none" stroke="#f5ae88" stroke-width="3.4" stroke-linecap="round" stroke-linejoin="round"/><polyline points="730.5,118.5 735.8,130.2" fill="none" stroke="#000" stroke-width="4.8" stroke-linecap="round" stroke-linejoin="round"/><polyline points="730.5,118.5 735.8,130.2" fill="none" stroke="#004296" stroke-width="3.4" stroke-linecap="round" stroke-linejoin="round"/><polyline points="740.1,119.0 739.5,122.9" fill="none" stroke="#000" stroke-width="4.8" stroke-linecap="round" stroke-linejoin="round"/><polyline points="740.1,119.0 739.5,122.9" fill="none" stroke="#f5ae88" stroke-width="3.4" stroke-linecap="round" stroke-linejoin="round"/><polyline points="741.0,124.5 748.3,132.8" fill="none" stroke="#000" stroke-width="4.8" stroke-linecap="round" stroke-linejoin="round"/><polyline points="741.0,124.5 748.3,132.8" fill="none" stroke="#004296" stroke-width="3.4" stroke-linecap="round" stroke-linejoin="round"/><ellipse cx="736.2" cy="131.5" rx="3.3" ry="1.9" transform="rotate(-20 736.2 131.5)" fill="#000"/><ellipse cx="749.2" cy="135.0" rx="3.3" ry="1.9" transform="rotate(-10 749.2 135.0)" fill="#000"/><path d="M733.70 105.35Q734.30 104.20 735.60 104.12L742.30 103.68Q743.60 103.60 743.72 104.89L744.08 108.71Q744.20 110.00 743.97 111.28L742.63 118.72Q742.40 120.00 741.10 120.00L737.90 120.00Q736.60 120.00 736.19 118.77L735.81 117.63Q735.40 116.40 734.19 115.92L730.81 114.58Q729.60 114.10 730.10 112.90L730.80 111.20Q731.30 110.00 731.90 108.85Z" fill="#fff" stroke="#000" stroke-width="0.8" stroke-linejoin="round"/><polyline points="728.4,94.8 726.1,93.7 724.3,98.3" fill="none" stroke="#000" stroke-width="3.9" stroke-linecap="round" stroke-linejoin="round"/><polyline points="728.4,94.8 726.1,93.7 724.3,98.3" fill="none" stroke="#f5ae88" stroke-width="2.5" stroke-linecap="round" stroke-linejoin="round"/><circle cx="724.3" cy="98.3" r="1.7" fill="#f5ae88" stroke="#000" stroke-width="0.6"/><polyline points="745.9,90.8 751.2,94.3 755.9,97.2" fill="none" stroke="#000" stroke-width="3.9" stroke-linecap="round" stroke-linejoin="round"/><polyline points="745.9,90.8 751.2,94.3 755.9,97.2" fill="none" stroke="#f5ae88" stroke-width="2.5" stroke-linecap="round" stroke-linejoin="round"/><circle cx="755.9" cy="97.2" r="1.7" fill="#f5ae88" stroke="#000" stroke-width="0.6"/><path d="M728.17 93.75Q727.80 92.50 728.72 91.58L730.38 89.92Q731.30 89.00 732.59 89.19L734.11 89.41Q735.40 89.60 736.70 89.52L744.00 89.08Q745.30 89.00 745.62 90.26L746.18 92.44Q746.50 93.70 745.34 94.14L744.76 94.36Q743.60 94.80 743.60 96.10L743.60 102.30Q743.60 103.60 742.30 103.68L735.60 104.12Q734.30 104.20 733.56 103.13L729.74 97.67Q729.00 96.60 728.63 95.35Z" fill="#004296" stroke="#000" stroke-width="0.8" stroke-linejoin="round"/><ellipse cx="733.7" cy="84.6" rx="4.1" ry="5.0" fill="#f5ae88" stroke="#000" stroke-width="0.7"/><path d="M729.6 83.1C730.0 78.1 739.0 78.1 738.0 86.1L735.3 88.8L733.3 85.8Q731.9 83.1 729.6 83.1Z" fill="#000"/></g><g><polyline points="601.9,238.0 602.5,240.8" fill="none" stroke="#000" stroke-width="4.8" stroke-linecap="round" stroke-linejoin="round"/><polyline points="601.9,238.0 602.5,240.8" fill="none" stroke="#f5ae88" stroke-width="3.4" stroke-linecap="round" stroke-linejoin="round"/><polyline points="601.3,243.0 598.0,254.4" fill="none" stroke="#000" stroke-width="4.8" stroke-linecap="round" stroke-linejoin="round"/><polyline points="601.3,243.0 598.0,254.4" fill="none" stroke="#004296" stroke-width="3.4" stroke-linecap="round" stroke-linejoin="round"/><polyline points="608.3,232.0 608.3,233.8" fill="none" stroke="#000" stroke-width="4.8" stroke-linecap="round" stroke-linejoin="round"/><polyline points="608.3,232.0 608.3,233.8" fill="none" stroke="#f5ae88" stroke-width="3.4" stroke-linecap="round" stroke-linejoin="round"/><polyline points="607.2,236.7 604.8,247.8" fill="none" stroke="#000" stroke-width="4.8" stroke-linecap="round" stroke-linejoin="round"/><polyline points="607.2,236.7 604.8,247.8" fill="none" stroke="#004296" stroke-width="3.4" stroke-linecap="round" stroke-linejoin="round"/><ellipse cx="598.2" cy="255.7" rx="3.3" ry="1.9" transform="rotate(10 598.2 255.7)" fill="#000"/><ellipse cx="604.3" cy="250.0" rx="3.3" ry="1.9" transform="rotate(10 604.3 250.0)" fill="#000"/><path d="M594.10 225.60Q594.30 224.40 595.60 224.40L604.10 224.40Q605.40 224.40 606.02 225.54L608.28 229.76Q608.90 230.90 608.07 231.90L606.83 233.40Q606.00 234.40 605.47 235.59L604.23 238.41Q603.70 239.60 602.41 239.47L599.09 239.13Q597.80 239.00 597.38 237.77L594.22 228.63Q593.80 227.40 594.00 226.20Z" fill="#fff" stroke="#000" stroke-width="0.8" stroke-linejoin="round"/><polyline points="592.6,211.0 592.0,213.3 593.8,216.3" fill="none" stroke="#000" stroke-width="3.9" stroke-linecap="round" stroke-linejoin="round"/><polyline points="592.6,211.0 592.0,213.3 593.8,216.3" fill="none" stroke="#f5ae88" stroke-width="2.5" stroke-linecap="round" stroke-linejoin="round"/><circle cx="593.8" cy="216.3" r="1.7" fill="#f5ae88" stroke="#000" stroke-width="0.6"/><polyline points="610.1,218.6 611.8,220.9 614.8,215.7" fill="none" stroke="#000" stroke-width="3.9" stroke-linecap="round" stroke-linejoin="round"/><polyline points="610.1,218.6 611.8,220.9 614.8,215.7" fill="none" stroke="#f5ae88" stroke-width="2.5" stroke-linecap="round" stroke-linejoin="round"/><circle cx="614.8" cy="215.7" r="1.7" fill="#f5ae88" stroke="#000" stroke-width="0.6"/><path d="M593.08 211.12Q593.80 210.40 594.72 209.48L595.78 208.42Q596.70 207.50 597.96 207.19L604.74 205.51Q606.00 205.20 607.02 206.01L607.88 206.69Q608.90 207.50 609.25 208.75L611.45 216.75Q611.80 218.00 610.64 218.48L610.06 218.72Q608.90 219.20 608.17 220.28L606.13 223.32Q605.40 224.40 604.10 224.34L595.60 223.96Q594.30 223.90 594.30 222.60L594.30 218.10Q594.30 216.80 593.72 215.64L592.58 213.36Q592.00 212.20 592.72 211.48Z" fill="#004296" stroke="#000" stroke-width="0.8" stroke-linejoin="round"/><rect x="604.5" y="203.3" width="3.6" height="3.2" fill="#f5ae88"/><ellipse cx="605.5" cy="200.5" rx="4.2" ry="4.8" fill="#000"/><path d="M607.4 199.5Q609.9 200.0 609.1 203.4Q608.0 206.0 605.3 206.3Q607.2 203.4 607.4 199.5Z" fill="#f5ae88"/></g><g><polyline points="740.8,238.0 740.2,240.8" fill="none" stroke="#000" stroke-width="4.8" stroke-linecap="round" stroke-linejoin="round"/><polyline points="740.8,238.0 740.2,240.8" fill="none" stroke="#f5ae88" stroke-width="3.4" stroke-linecap="round" stroke-linejoin="round"/><polyline points="741.4,243.0 744.7,254.4" fill="none" stroke="#000" stroke-width="4.8" stroke-linecap="round" stroke-linejoin="round"/><polyline points="741.4,243.0 744.7,254.4" fill="none" stroke="#004296" stroke-width="3.4" stroke-linecap="round" stroke-linejoin="round"/><polyline points="734.4,232.0 734.4,233.8" fill="none" stroke="#000" stroke-width="4.8" stroke-linecap="round" stroke-linejoin="round"/><polyline points="734.4,232.0 734.4,233.8" fill="none" stroke="#f5ae88" stroke-width="3.4" stroke-linecap="round" stroke-linejoin="round"/><polyline points="735.5,236.7 737.9,247.8" fill="none" stroke="#000" stroke-width="4.8" stroke-linecap="round" stroke-linejoin="round"/><polyline points="735.5,236.7 737.9,247.8" fill="none" stroke="#004296" stroke-width="3.4" stroke-linecap="round" stroke-linejoin="round"/><ellipse cx="744.5" cy="255.7" rx="3.3" ry="1.9" transform="rotate(-10 744.5 255.7)" fill="#000"/><ellipse cx="738.4" cy="250.0" rx="3.3" ry="1.9" transform="rotate(-10 738.4 250.0)" fill="#000"/><path d="M748.60 225.60Q748.40 224.40 747.10 224.40L738.60 224.40Q737.30 224.40 736.68 225.54L734.42 229.76Q733.80 230.90 734.63 231.90L735.87 233.40Q736.70 234.40 737.23 235.59L738.47 238.41Q739.00 239.60 740.29 239.47L743.61 239.13Q744.90 239.00 745.32 237.77L748.48 228.63Q748.90 227.40 748.70 226.20Z" fill="#fff" stroke="#000" stroke-width="0.8" stroke-linejoin="round"/><polyline points="750.1,211.0 750.7,213.3 748.9,216.3" fill="none" stroke="#000" stroke-width="3.9" stroke-linecap="round" stroke-linejoin="round"/><polyline points="750.1,211.0 750.7,213.3 748.9,216.3" fill="none" stroke="#f5ae88" stroke-width="2.5" stroke-linecap="round" stroke-linejoin="round"/><circle cx="748.9" cy="216.3" r="1.7" fill="#f5ae88" stroke="#000" stroke-width="0.6"/><polyline points="732.6,218.6 730.9,220.9 727.9,215.7" fill="none" stroke="#000" stroke-width="3.9" stroke-linecap="round" stroke-linejoin="round"/><polyline points="732.6,218.6 730.9,220.9 727.9,215.7" fill="none" stroke="#f5ae88" stroke-width="2.5" stroke-linecap="round" stroke-linejoin="round"/><circle cx="727.9" cy="215.7" r="1.7" fill="#f5ae88" stroke="#000" stroke-width="0.6"/><path d="M749.62 211.12Q748.90 210.40 747.98 209.48L746.92 208.42Q746.00 207.50 744.74 207.19L737.96 205.51Q736.70 205.20 735.68 206.01L734.82 206.69Q733.80 207.50 733.45 208.75L731.25 216.75Q730.90 218.00 732.06 218.48L732.64 218.72Q733.80 219.20 734.53 220.28L736.57 223.32Q737.30 224.40 738.60 224.34L747.10 223.96Q748.40 223.90 748.40 222.60L748.40 218.10Q748.40 216.80 748.98 215.64L750.12 213.36Q750.70 212.20 749.98 211.48Z" fill="#004296" stroke="#000" stroke-width="0.8" stroke-linejoin="round"/><rect x="735.4" y="203.3" width="3.6" height="3" fill="#f5ae88"/><ellipse cx="737.2" cy="200.5" rx="4.2" ry="4.8" fill="#000"/></g><circle cx="619.4" cy="136.9" r="4.6" fill="#fff" stroke="#000" stroke-width="0.8"/><circle cx="619.6999999999999" cy="136.70000000000002" r="1.5" fill="#000"/><circle cx="616.8" cy="138.70000000000002" r="1.1" fill="#000"/><circle cx="622.3" cy="139.1" r="1.0" fill="#000"/><circle cx="617.9" cy="133.70000000000002" r="0.9" fill="#000"/><circle cx="622.4" cy="134.3" r="0.8" fill="#000"/></g><g transform="translate(0 235)"><g><polyline points="600.8,119.0 601.3,122.9" fill="none" stroke="#000" stroke-width="4.8" stroke-linecap="round" stroke-linejoin="round"/><polyline points="600.8,119.0 601.3,122.9" fill="none" stroke="#f5ae88" stroke-width="3.4" stroke-linecap="round" stroke-linejoin="round"/><polyline points="600.5,125.0 595.8,135.5" fill="none" stroke="#000" stroke-width="4.8" stroke-linecap="round" stroke-linejoin="round"/><polyline points="600.5,125.0 595.8,135.5" fill="none" stroke="#004296" stroke-width="3.4" stroke-linecap="round" stroke-linejoin="round"/><polyline points="606.0,119.0 607.8,124.0" fill="none" stroke="#000" stroke-width="4.8" stroke-linecap="round" stroke-linejoin="round"/><polyline points="606.0,119.0 607.8,124.0" fill="none" stroke="#f5ae88" stroke-width="3.4" stroke-linecap="round" stroke-linejoin="round"/><polyline points="608.0,125.5 610.6,134.6" fill="none" stroke="#000" stroke-width="4.8" stroke-linecap="round" stroke-linejoin="round"/><polyline points="608.0,125.5 610.6,134.6" fill="none" stroke="#004296" stroke-width="3.4" stroke-linecap="round" stroke-linejoin="round"/><ellipse cx="597.8" cy="138.0" rx="3.3" ry="1.9" transform="rotate(0 597.8 138.0)" fill="#000"/><ellipse cx="611.5" cy="136.0" rx="3.3" ry="1.9" transform="rotate(20 611.5 136.0)" fill="#000"/><path d="M597.15 106.09Q597.30 104.80 598.60 104.80L604.70 104.80Q606.00 104.80 606.19 106.09L607.61 115.71Q607.80 117.00 606.88 117.92L605.72 119.08Q604.80 120.00 603.50 120.11L600.30 120.39Q599.00 120.50 598.72 119.23L596.98 111.27Q596.70 110.00 596.85 108.71Z" fill="#fff" stroke="#000" stroke-width="0.8" stroke-linejoin="round"/><polyline points="597.8,94.8 594.3,98.9 588.5,107.1" fill="none" stroke="#000" stroke-width="3.9" stroke-linecap="round" stroke-linejoin="round"/><polyline points="597.8,94.8 594.3,98.9 588.5,107.1" fill="none" stroke="#f5ae88" stroke-width="2.5" stroke-linecap="round" stroke-linejoin="round"/><circle cx="588.5" cy="107.1" r="1.7" fill="#f5ae88" stroke="#000" stroke-width="0.6"/><polyline points="610.1,99.5 611.3,105.3 613.6,111.8" fill="none" stroke="#000" stroke-width="3.9" stroke-linecap="round" stroke-linejoin="round"/><polyline points="610.1,99.5 611.3,105.3 613.6,111.8" fill="none" stroke="#f5ae88" stroke-width="2.5" stroke-linecap="round" stroke-linejoin="round"/><circle cx="613.6" cy="111.8" r="1.7" fill="#f5ae88" stroke="#000" stroke-width="0.6"/><path d="M597.34 94.83Q596.70 93.70 597.66 92.82L601.54 89.28Q602.50 88.40 603.79 88.53L607.01 88.87Q608.30 89.00 608.89 90.16L609.51 91.34Q610.10 92.50 610.41 93.76L611.49 98.24Q611.80 99.50 610.52 99.72L609.58 99.88Q608.30 100.10 607.86 101.32L607.04 103.58Q606.60 104.80 605.30 104.80L598.60 104.80Q597.30 104.80 597.61 103.54L598.69 99.06Q599.00 97.80 598.36 96.67Z" fill="#004296" stroke="#000" stroke-width="0.8" stroke-linejoin="round"/><path d="M599.91 91.30Q600.00 90.00 601.30 90.00L606.70 90.00Q608.00 90.00 608.07 91.30L608.43 98.20Q608.50 99.50 608.06 100.72L607.04 103.58Q606.60 104.80 605.30 104.80L599.80 104.80Q598.50 104.80 598.67 103.51L599.33 98.29Q599.50 97.00 599.59 95.70Z" fill="#f9c818" stroke="#000" stroke-width="0.6" stroke-linejoin="round"/><ellipse cx="610" cy="85.2" rx="4.0" ry="5.0" fill="#f5ae88" stroke="#000" stroke-width="0.7"/><path d="M614.0 83.7C613.6 78.7 604.8 78.7 605.8 86.7L608.4 89.5L610.4 86.5Q611.8 83.7 614.0 83.7Z" fill="#000"/></g><g><polyline points="730.0,114.0 729.6,116.0" fill="none" stroke="#000" stroke-width="4.8" stroke-linecap="round" stroke-linejoin="round"/><polyline points="730.0,114.0 729.6,116.0" fill="none" stroke="#f5ae88" stroke-width="3.4" stroke-linecap="round" stroke-linejoin="round"/><polyline points="730.5,118.5 735.8,130.2" fill="none" stroke="#000" stroke-width="4.8" stroke-linecap="round" stroke-linejoin="round"/><polyline points="730.5,118.5 735.8,130.2" fill="none" stroke="#004296" stroke-width="3.4" stroke-linecap="round" stroke-linejoin="round"/><polyline points="740.1,119.0 739.5,122.9" fill="none" stroke="#000" stroke-width="4.8" stroke-linecap="round" stroke-linejoin="round"/><polyline points="740.1,119.0 739.5,122.9" fill="none" stroke="#f5ae88" stroke-width="3.4" stroke-linecap="round" stroke-linejoin="round"/><polyline points="741.0,124.5 748.3,132.8" fill="none" stroke="#000" stroke-width="4.8" stroke-linecap="round" stroke-linejoin="round"/><polyline points="741.0,124.5 748.3,132.8" fill="none" stroke="#004296" stroke-width="3.4" stroke-linecap="round" stroke-linejoin="round"/><ellipse cx="736.2" cy="131.5" rx="3.3" ry="1.9" transform="rotate(-20 736.2 131.5)" fill="#000"/><ellipse cx="749.2" cy="135.0" rx="3.3" ry="1.9" transform="rotate(-10 749.2 135.0)" fill="#000"/><path d="M733.70 105.35Q734.30 104.20 735.60 104.12L742.30 103.68Q743.60 103.60 743.72 104.89L744.08 108.71Q744.20 110.00 743.97 111.28L742.63 118.72Q742.40 120.00 741.10 120.00L737.90 120.00Q736.60 120.00 736.19 118.77L735.81 117.63Q735.40 116.40 734.19 115.92L730.81 114.58Q729.60 114.10 730.10 112.90L730.80 111.20Q731.30 110.00 731.90 108.85Z" fill="#fff" stroke="#000" stroke-width="0.8" stroke-linejoin="round"/><polyline points="728.4,94.8 726.1,93.7 724.3,98.3" fill="none" stroke="#000" stroke-width="3.9" stroke-linecap="round" stroke-linejoin="round"/><polyline points="728.4,94.8 726.1,93.7 724.3,98.3" fill="none" stroke="#f5ae88" stroke-width="2.5" stroke-linecap="round" stroke-linejoin="round"/><circle cx="724.3" cy="98.3" r="1.7" fill="#f5ae88" stroke="#000" stroke-width="0.6"/><polyline points="745.9,90.8 751.2,94.3 755.9,97.2" fill="none" stroke="#000" stroke-width="3.9" stroke-linecap="round" stroke-linejoin="round"/><polyline points="745.9,90.8 751.2,94.3 755.9,97.2" fill="none" stroke="#f5ae88" stroke-width="2.5" stroke-linecap="round" stroke-linejoin="round"/><circle cx="755.9" cy="97.2" r="1.7" fill="#f5ae88" stroke="#000" stroke-width="0.6"/><path d="M728.17 93.75Q727.80 92.50 728.72 91.58L730.38 89.92Q731.30 89.00 732.59 89.19L734.11 89.41Q735.40 89.60 736.70 89.52L744.00 89.08Q745.30 89.00 745.62 90.26L746.18 92.44Q746.50 93.70 745.34 94.14L744.76 94.36Q743.60 94.80 743.60 96.10L743.60 102.30Q743.60 103.60 742.30 103.68L735.60 104.12Q734.30 104.20 733.56 103.13L729.74 97.67Q729.00 96.60 728.63 95.35Z" fill="#004296" stroke="#000" stroke-width="0.8" stroke-linejoin="round"/><path d="M731.00 91.80Q731.00 90.50 732.30 90.44L741.20 90.06Q742.50 90.00 742.63 91.29L742.87 93.71Q743.00 95.00 743.09 96.30L743.51 102.30Q743.60 103.60 742.30 103.68L735.60 104.12Q734.30 104.20 733.76 103.02L731.54 98.18Q731.00 97.00 731.00 95.70Z" fill="#f9c818" stroke="#000" stroke-width="0.6" stroke-linejoin="round"/><ellipse cx="733.7" cy="84.6" rx="4.1" ry="5.0" fill="#f5ae88" stroke="#000" stroke-width="0.7"/><path d="M729.6 83.1C730.0 78.1 739.0 78.1 738.0 86.1L735.3 88.8L733.3 85.8Q731.9 83.1 729.6 83.1Z" fill="#000"/></g><g><polyline points="601.9,238.0 602.5,240.8" fill="none" stroke="#000" stroke-width="4.8" stroke-linecap="round" stroke-linejoin="round"/><polyline points="601.9,238.0 602.5,240.8" fill="none" stroke="#f5ae88" stroke-width="3.4" stroke-linecap="round" stroke-linejoin="round"/><polyline points="601.3,243.0 598.0,254.4" fill="none" stroke="#000" stroke-width="4.8" stroke-linecap="round" stroke-linejoin="round"/><polyline points="601.3,243.0 598.0,254.4" fill="none" stroke="#004296" stroke-width="3.4" stroke-linecap="round" stroke-linejoin="round"/><polyline points="608.3,232.0 608.3,233.8" fill="none" stroke="#000" stroke-width="4.8" stroke-linecap="round" stroke-linejoin="round"/><polyline points="608.3,232.0 608.3,233.8" fill="none" stroke="#f5ae88" stroke-width="3.4" stroke-linecap="round" stroke-linejoin="round"/><polyline points="607.2,236.7 604.8,247.8" fill="none" stroke="#000" stroke-width="4.8" stroke-linecap="round" stroke-linejoin="round"/><polyline points="607.2,236.7 604.8,247.8" fill="none" stroke="#004296" stroke-width="3.4" stroke-linecap="round" stroke-linejoin="round"/><ellipse cx="598.2" cy="255.7" rx="3.3" ry="1.9" transform="rotate(10 598.2 255.7)" fill="#000"/><ellipse cx="604.3" cy="250.0" rx="3.3" ry="1.9" transform="rotate(10 604.3 250.0)" fill="#000"/><path d="M594.10 225.60Q594.30 224.40 595.60 224.40L604.10 224.40Q605.40 224.40 606.02 225.54L608.28 229.76Q608.90 230.90 608.07 231.90L606.83 233.40Q606.00 234.40 605.47 235.59L604.23 238.41Q603.70 239.60 602.41 239.47L599.09 239.13Q597.80 239.00 597.38 237.77L594.22 228.63Q593.80 227.40 594.00 226.20Z" fill="#fff" stroke="#000" stroke-width="0.8" stroke-linejoin="round"/><polyline points="592.6,211.0 592.0,213.3 593.8,216.3" fill="none" stroke="#000" stroke-width="3.9" stroke-linecap="round" stroke-linejoin="round"/><polyline points="592.6,211.0 592.0,213.3 593.8,216.3" fill="none" stroke="#f5ae88" stroke-width="2.5" stroke-linecap="round" stroke-linejoin="round"/><circle cx="593.8" cy="216.3" r="1.7" fill="#f5ae88" stroke="#000" stroke-width="0.6"/><polyline points="610.1,218.6 611.8,220.9 614.8,215.7" fill="none" stroke="#000" stroke-width="3.9" stroke-linecap="round" stroke-linejoin="round"/><polyline points="610.1,218.6 611.8,220.9 614.8,215.7" fill="none" stroke="#f5ae88" stroke-width="2.5" stroke-linecap="round" stroke-linejoin="round"/><circle cx="614.8" cy="215.7" r="1.7" fill="#f5ae88" stroke="#000" stroke-width="0.6"/><path d="M593.08 211.12Q593.80 210.40 594.72 209.48L595.78 208.42Q596.70 207.50 597.96 207.19L604.74 205.51Q606.00 205.20 607.02 206.01L607.88 206.69Q608.90 207.50 609.25 208.75L611.45 216.75Q611.80 218.00 610.64 218.48L610.06 218.72Q608.90 219.20 608.17 220.28L606.13 223.32Q605.40 224.40 604.10 224.34L595.60 223.96Q594.30 223.90 594.30 222.60L594.30 218.10Q594.30 216.80 593.72 215.64L592.58 213.36Q592.00 212.20 592.72 211.48Z" fill="#004296" stroke="#000" stroke-width="0.8" stroke-linejoin="round"/><path d="M595.31 209.29Q595.50 208.00 596.79 207.82L605.21 206.68Q606.50 206.50 606.56 207.80L606.94 216.70Q607.00 218.00 606.68 219.26L605.72 223.14Q605.40 224.40 604.10 224.34L595.60 223.96Q594.30 223.90 594.30 222.60L594.30 217.30Q594.30 216.00 594.49 214.71Z" fill="#f9c818" stroke="#000" stroke-width="0.6" stroke-linejoin="round"/><rect x="604.5" y="203.3" width="3.6" height="3.2" fill="#f5ae88"/><ellipse cx="605.5" cy="200.5" rx="4.2" ry="4.8" fill="#000"/><path d="M607.4 199.5Q609.9 200.0 609.1 203.4Q608.0 206.0 605.3 206.3Q607.2 203.4 607.4 199.5Z" fill="#f5ae88"/></g><g><polyline points="740.8,238.0 740.2,240.8" fill="none" stroke="#000" stroke-width="4.8" stroke-linecap="round" stroke-linejoin="round"/><polyline points="740.8,238.0 740.2,240.8" fill="none" stroke="#f5ae88" stroke-width="3.4" stroke-linecap="round" stroke-linejoin="round"/><polyline points="741.4,243.0 744.7,254.4" fill="none" stroke="#000" stroke-width="4.8" stroke-linecap="round" stroke-linejoin="round"/><polyline points="741.4,243.0 744.7,254.4" fill="none" stroke="#004296" stroke-width="3.4" stroke-linecap="round" stroke-linejoin="round"/><polyline points="734.4,232.0 734.4,233.8" fill="none" stroke="#000" stroke-width="4.8" stroke-linecap="round" stroke-linejoin="round"/><polyline points="734.4,232.0 734.4,233.8" fill="none" stroke="#f5ae88" stroke-width="3.4" stroke-linecap="round" stroke-linejoin="round"/><polyline points="735.5,236.7 737.9,247.8" fill="none" stroke="#000" stroke-width="4.8" stroke-linecap="round" stroke-linejoin="round"/><polyline points="735.5,236.7 737.9,247.8" fill="none" stroke="#004296" stroke-width="3.4" stroke-linecap="round" stroke-linejoin="round"/><ellipse cx="744.5" cy="255.7" rx="3.3" ry="1.9" transform="rotate(-10 744.5 255.7)" fill="#000"/><ellipse cx="738.4" cy="250.0" rx="3.3" ry="1.9" transform="rotate(-10 738.4 250.0)" fill="#000"/><path d="M748.60 225.60Q748.40 224.40 747.10 224.40L738.60 224.40Q737.30 224.40 736.68 225.54L734.42 229.76Q733.80 230.90 734.63 231.90L735.87 233.40Q736.70 234.40 737.23 235.59L738.47 238.41Q739.00 239.60 740.29 239.47L743.61 239.13Q744.90 239.00 745.32 237.77L748.48 228.63Q748.90 227.40 748.70 226.20Z" fill="#fff" stroke="#000" stroke-width="0.8" stroke-linejoin="round"/><polyline points="750.1,211.0 750.7,213.3 748.9,216.3" fill="none" stroke="#000" stroke-width="3.9" stroke-linecap="round" stroke-linejoin="round"/><polyline points="750.1,211.0 750.7,213.3 748.9,216.3" fill="none" stroke="#f5ae88" stroke-width="2.5" stroke-linecap="round" stroke-linejoin="round"/><circle cx="748.9" cy="216.3" r="1.7" fill="#f5ae88" stroke="#000" stroke-width="0.6"/><polyline points="732.6,218.6 730.9,220.9 727.9,215.7" fill="none" stroke="#000" stroke-width="3.9" stroke-linecap="round" stroke-linejoin="round"/><polyline points="732.6,218.6 730.9,220.9 727.9,215.7" fill="none" stroke="#f5ae88" stroke-width="2.5" stroke-linecap="round" stroke-linejoin="round"/><circle cx="727.9" cy="215.7" r="1.7" fill="#f5ae88" stroke="#000" stroke-width="0.6"/><path d="M749.62 211.12Q748.90 210.40 747.98 209.48L746.92 208.42Q746.00 207.50 744.74 207.19L737.96 205.51Q736.70 205.20 735.68 206.01L734.82 206.69Q733.80 207.50 733.45 208.75L731.25 216.75Q730.90 218.00 732.06 218.48L732.64 218.72Q733.80 219.20 734.53 220.28L736.57 223.32Q737.30 224.40 738.60 224.34L747.10 223.96Q748.40 223.90 748.40 222.60L748.40 218.10Q748.40 216.80 748.98 215.64L750.12 213.36Q750.70 212.20 749.98 211.48Z" fill="#004296" stroke="#000" stroke-width="0.8" stroke-linejoin="round"/><path d="M747.39 209.29Q747.20 208.00 745.91 207.82L737.49 206.68Q736.20 206.50 736.14 207.80L735.76 216.70Q735.70 218.00 736.02 219.26L736.98 223.14Q737.30 224.40 738.60 224.34L747.10 223.96Q748.40 223.90 748.40 222.60L748.40 217.30Q748.40 216.00 748.21 214.71Z" fill="#f9c818" stroke="#000" stroke-width="0.6" stroke-linejoin="round"/><rect x="735.4" y="203.3" width="3.6" height="3" fill="#f5ae88"/><ellipse cx="737.2" cy="200.5" rx="4.2" ry="4.8" fill="#000"/></g><circle cx="619.4" cy="136.9" r="4.6" fill="#fff" stroke="#000" stroke-width="0.8"/><circle cx="619.6999999999999" cy="136.70000000000002" r="1.5" fill="#000"/><circle cx="616.8" cy="138.70000000000002" r="1.1" fill="#000"/><circle cx="622.3" cy="139.1" r="1.0" fill="#000"/><circle cx="617.9" cy="133.70000000000002" r="0.9" fill="#000"/><circle cx="622.4" cy="134.3" r="0.8" fill="#000"/></g><g><ellipse cx="421.8" cy="562.2" rx="3.4" ry="2.2" transform="rotate(0 421.8 562.2)" fill="#000"/><ellipse cx="434.2" cy="562.8" rx="3.4" ry="2.2" transform="rotate(0 434.2 562.8)" fill="#000"/><path d="M424.22 525.47Q424.50 524.20 425.80 524.20L435.20 524.20Q436.50 524.20 436.63 525.49L437.07 529.71Q437.20 531.00 436.97 532.28L435.23 541.72Q435.00 543.00 434.91 544.30L434.09 556.70Q434.00 558.00 432.80 558.28L432.20 558.42Q431.00 558.70 430.89 557.40L429.81 544.30Q429.70 543.00 429.51 541.71L428.69 536.29Q428.50 535.00 428.11 536.24L426.39 541.76Q426.00 543.00 425.83 544.29L424.17 556.71Q424.00 558.00 422.80 558.00L422.20 558.00Q421.00 558.00 421.19 556.71L423.01 544.29Q423.20 543.00 423.18 541.70L423.02 532.30Q423.00 531.00 423.28 529.73Z" fill="#004296" stroke="#000" stroke-width="0.8" stroke-linejoin="round"/><rect x="420.6" y="557.6" width="3.4" height="2.4" fill="#fff"/><rect x="431.4" y="558.3" width="3.4" height="2.4" fill="#fff"/><polyline points="421.5,512.0 420.5,523.5 420.7,531.0" fill="none" stroke="#000" stroke-width="3.9" stroke-linecap="round" stroke-linejoin="round"/><polyline points="421.5,512.0 420.5,523.5 420.7,531.0" fill="none" stroke="#f5ae88" stroke-width="2.5" stroke-linecap="round" stroke-linejoin="round"/><circle cx="420.7" cy="531.0" r="1.7" fill="#f5ae88" stroke="#000" stroke-width="0.6"/><polyline points="439.8,512.0 440.7,525.0 440.2,531.0" fill="none" stroke="#000" stroke-width="3.9" stroke-linecap="round" stroke-linejoin="round"/><polyline points="439.8,512.0 440.7,525.0 440.2,531.0" fill="none" stroke="#f5ae88" stroke-width="2.5" stroke-linecap="round" stroke-linejoin="round"/><circle cx="440.2" cy="531.0" r="1.7" fill="#f5ae88" stroke="#000" stroke-width="0.6"/><path d="M420.55 511.29Q420.70 510.00 421.62 509.08L423.58 507.12Q424.50 506.20 425.75 505.84L428.45 505.06Q429.70 504.70 430.97 504.98L435.23 505.92Q436.50 506.20 437.34 507.19L440.16 510.51Q441.00 511.50 441.00 512.80L441.00 514.70Q441.00 516.00 439.72 516.24L438.48 516.46Q437.20 516.70 437.08 517.99L436.62 522.91Q436.50 524.20 435.20 524.20L425.80 524.20Q424.50 524.20 424.41 522.90L424.09 518.00Q424.00 516.70 422.72 516.48L421.28 516.22Q420.00 516.00 420.15 514.71Z" fill="#fff" stroke="#000" stroke-width="0.8" stroke-linejoin="round"/><rect x="428.7" y="502.1" width="3.6" height="3" fill="#f5ae88"/><ellipse cx="430.5" cy="499.5" rx="3.8" ry="4.6" fill="#000"/></g><path d="M354.0 313.7L218.0 248.6" stroke="#000" stroke-width="2.7" fill="none"/><path d="M207.6 243.6L223.1 242.6L216.5 256.3Z" fill="#000"/><path d="M203.8 252.5L176.1 321.6" stroke="#000" stroke-width="2.7" fill="none"/><path d="M171.8 332.3L169.8 316.9L183.9 322.6Z" fill="#000"/><path d="M193.0 378.5L164.0 472.8" stroke="#000" stroke-width="2.7" fill="none"/><path d="M160.6 483.8L157.3 468.7L171.8 473.1Z" fill="#000"/><path d="M96.2 303.4Q125 304 160.5 325.5" stroke="#000" stroke-width="2.7" fill="none" stroke-dasharray="8 8"/><path d="M169.4 333.6L154.3 330.1L164.5 318.9Z" fill="#000"/><path d="M172.6 336.8C171.5 341 170.2 347 172 349.7C174 352.5 178.5 350.5 181.5 350.6C185 350.7 186.3 353.5 186.5 358L186.8 364" stroke="#000" stroke-width="2.7" fill="none" stroke-linecap="round"/><path d="M192.8 375.0L179.8 366.5L193.3 359.5Z" fill="#000"/><path d="M594.1 234.0 592.5 235.5 591.0 237.9 589.6 240.5 588.1 242.7 586.6 244.0 584.8 244.0 583.0 242.8 581.1 240.7 579.3 238.4 577.4 236.5 575.7 235.5 574.0 235.7 572.4 237.2 570.9 239.5 569.4 242.0 567.9 244.2 566.4 245.5 564.8 245.6 563.0 244.5 561.1 242.6 559.0 240.4 556.8 238.7 554.9 237.9 553.2 238.5 551.8 240.3 550.7 242.9 550.0 245.8 549.2 248.3 548.3 250.0 546.8 250.6 544.9 250.2 542.4 249.0 539.7 247.7 537.1 246.9 535.0 246.8 533.5 247.8 532.8 249.9 532.7 252.7 532.9 255.7 532.9 258.4 532.3 260.4 531.1 261.4 529.0 261.5 526.3 260.9 523.4 260.2 520.7 259.7 518.7 260.0 517.4 261.2 517.0 263.3 517.3 266.0 517.8 269.0 518.1 271.7 517.8 273.7 516.7 274.9 514.6 275.2 511.9 275.0 508.9 274.5 506.2 274.2 504.1 274.6 503.0 275.8 502.7 277.9 503.1 280.6 503.8 283.5 504.2 286.2 504.1 288.3 503.0 289.6 501.0 290.0 498.3 289.8 495.3 289.5 492.5 289.3 490.4 289.8 489.3 291.1 489.1 293.2 489.6 295.8 490.5 298.7 491.1 301.4 491.0 303.5 490.1 304.8 488.1 305.4 485.4 305.4 482.0 304.9 479.1 304.8 477.6 305.4 477.2 307.3 477.9 310.0 478.7 313.3 478.7 316.3 477.6 318.2 475.4 318.4 472.6 317.1 469.8 315.1 467.5 313.5 465.8 313.3 464.6 314.7 463.8 317.5 462.9 320.8 461.8 323.5 460.1 324.7 458.3 324.4 456.3 322.9 454.2 320.8 452.2 318.7 450.4 317.1 448.7 316.7 447.1 317.5 445.6 319.4 444.2 321.9 442.6 324.4 441.1 326.3 439.4 327.0 437.7 326.5 435.8 324.8 434.0 322.5 432.3 320.2 430.5 318.5 428.9 317.9 427.2 318.5 425.6 320.3 423.9 322.7 422.2 325.1 420.6 326.9 418.8 327.6 417.2 327.0 415.4 325.3 413.8 322.8 412.2 320.4 410.5 318.6 408.9 317.8 407.2 318.3 405.5 319.9 403.7 322.2 401.8 324.5 399.9 326.1 398.1 326.6 396.5 325.9 395.0 324.0 393.6 321.4 392.2 318.8 390.8 316.8 389.3 315.8 387.6 316.1 385.7 317.5 383.6 319.5 381.5 321.6 379.5 323.1 377.7 323.5 376.2 322.7 374.8 320.7 373.6 318.0 372.4 315.3" stroke="#000" stroke-width="2.6" fill="none" stroke-linejoin="round" stroke-linecap="round"/><path d="M357.4 316.0L371.6 309.8L370.1 324.9Z" fill="#000"/><path d="M626.5 136.5L715.0 136.5" stroke="#000" stroke-width="2.7" fill="none"/><path d="M726.5 136.5L713.0 144.1L713.0 128.9Z" fill="#000"/><path d="M741.3 141.8L741.3 181.0" stroke="#000" stroke-width="2.7" fill="none"/><path d="M741.3 192.5L733.7 179.0L748.9 179.0Z" fill="#000"/><path d="M730.8 138.6L626.3 221.5" stroke="#000" stroke-width="2.7" fill="none"/><path d="M617.3 228.6L623.2 214.3L632.6 226.2Z" fill="#000"/><path d="M615.2 243.3L727.0 154.6" stroke="#000" stroke-width="2.7" fill="none"/><path d="M736.0 147.5L730.1 161.8L720.7 149.9Z" fill="#000"/><path d="M611.8 143.5L611.8 183.3" stroke="#000" stroke-width="2.7" fill="none"/><path d="M611.8 194.8L604.2 181.3L619.4 181.3Z" fill="#000"/><path d="M727.5 229.6L634.4 151.8" stroke="#000" stroke-width="2.7" fill="none"/><path d="M625.6 144.4L640.8 147.2L631.1 158.9Z" fill="#000"/><path d="M623.5 244.4L719.5 244.4" stroke="#000" stroke-width="2.7" fill="none"/><path d="M731.0 244.4L717.5 252.0L717.5 236.8Z" fill="#000"/><path d="M733.2 255.3L624.3 255.3" stroke="#000" stroke-width="2.7" fill="none"/><path d="M612.8 255.3L626.3 247.7L626.3 262.9Z" fill="#000"/><path d="M626.5 370.9L715.0 370.9" stroke="#000" stroke-width="2.7" fill="none"/><path d="M726.5 370.9L713.0 378.5L713.0 363.3Z" fill="#000"/><path d="M741.6 376.8L741.6 414.0" stroke="#000" stroke-width="2.7" fill="none"/><path d="M741.6 425.5L734.0 412.0L749.2 412.0Z" fill="#000"/><path d="M730.8 372.8L626.3 454.8" stroke="#000" stroke-width="2.7" fill="none"/><path d="M617.3 461.9L623.2 447.6L632.6 459.5Z" fill="#000"/><path d="M615.2 477.5L727.0 388.8" stroke="#000" stroke-width="2.7" fill="none"/><path d="M736.0 381.7L730.1 396.0L720.7 384.1Z" fill="#000"/><path d="M727.6 463.0L663.7 410.7" stroke="#000" stroke-width="2.7" fill="none"/><path d="M654.8 403.4L670.1 406.1L660.4 417.8Z" fill="#000"/><path d="M441 467L435.7 489.8L452 471Z" fill="#fff" stroke="#000" stroke-width="1.3" stroke-linejoin="round"/><ellipse cx="469.5" cy="449.2" rx="40" ry="25.5" fill="#fff" stroke="#000" stroke-width="1.3"/><path d="M442.5 466.5L450.5 470" stroke="#fff" stroke-width="2.2"/><text x="448.1 461.9 475.8 486.6" y="454.4" font-family="Liberation Sans, sans-serif" font-size="22.4" fill="#000" stroke="#000" stroke-width="0.35">Los!</text></svg></body></html>
